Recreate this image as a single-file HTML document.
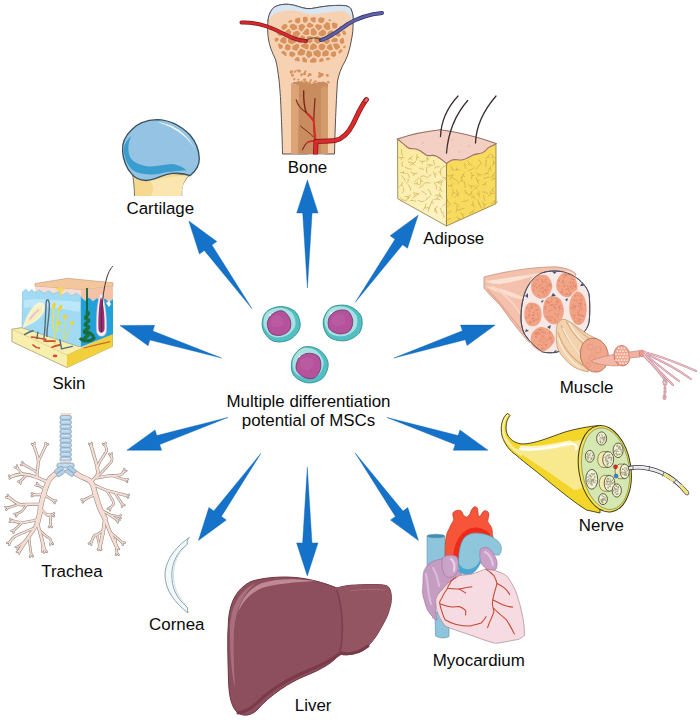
<!DOCTYPE html>
<html><head><meta charset="utf-8"><style>
html,body{margin:0;padding:0;background:#fff;}
body{width:700px;height:721px;overflow:hidden;font-family:"Liberation Sans",sans-serif;}
svg{display:block;}
</style></head><body>
<svg width="700" height="721" viewBox="0 0 700 721">
<rect width="700" height="721" fill="#fff"/>
<!-- 01_bone.svg -->
<g>
<path d="M282.5,154 C282,130 281,110 280.6,100 C280,90 279.5,85 279,80 C278,72 277,65 275.7,60 C272,52 269.5,46 268.6,40 C267.5,34 267.5,28 267.9,21.4 C268.5,16 270,11 274.3,7.1 C279,4.5 284,4 288.6,4.3 C296,5 301,8 307,8.6 C313,9 318,7 324.3,6.4 C331,5.5 340,5 345.7,5.7 C349,6.5 351,8 351.4,10 C353,14 353.5,18 352.9,21.4 C353.5,28 352.5,35 351.4,40 C350,48 348,55 345.7,60 C341,68 338.5,75 337.4,82 C336,105 335,130 334.5,154 Z" fill="#f7d2b2" stroke="#4a4040" stroke-width="0.9"/>
<path d="M267.9,21.4 C268.5,16 270,11 274.3,7.1 C279,4.5 284,4 288.6,4.3 C296,5 301,8 307,8.6 C313,9 318,7 324.3,6.4 C331,5.5 340,5 345.7,5.7 C349,6.5 351,8 351.4,10 C353,14 353.5,18 352.9,21.4 C351,18 350,15.5 348.6,14.3 C346,11.5 343,10.5 340,10.7 C334,11 329,12.5 324.3,12.9 C319,13.5 314,14.5 310,14.3 C305,14 300,11 295.7,10.7 C290,10.3 285,10.5 281.4,11.4 C276,12.5 272.5,14.5 270.7,17 Z" fill="#d8e6f3"/>
<path d="M267.9,21.4 C268.5,16 270,11 274.3,7.1 C279,4.5 284,4 288.6,4.3 C296,5 301,8 307,8.6 C313,9 318,7 324.3,6.4 C331,5.5 340,5 345.7,5.7 C349,6.5 351,8 351.4,10 C353,14 353.5,18 352.9,21.4" fill="none" stroke="#4a4a55" stroke-width="0.9"/>
<g fill="#d8925e"><path d="M288.6,21.0 L288.1,21.5 L288.2,22.1 L289.6,22.9 L291.9,22.0 L292.4,20.5 L292.1,19.9 L291.4,19.7 L288.6,21.0Z"/><path d="M294.8,21.3 L295.3,22.2 L297.4,23.5 L298.3,23.5 L300.3,22.0 L300.2,18.0 L299.4,17.6 L295.6,18.6 L295.3,19.1 L294.8,21.3Z"/><path d="M303.4,17.1 L303.0,17.8 L303.0,21.7 L304.7,22.8 L305.4,22.9 L307.8,20.7 L307.7,17.7 L306.1,16.7 L303.4,17.1Z"/><path d="M315.2,22.3 L315.5,21.7 L315.7,18.2 L315.5,17.7 L314.1,16.9 L310.8,17.7 L310.5,18.4 L310.8,20.7 L314.0,22.7 L315.2,22.3Z"/><path d="M324.3,18.5 L323.7,17.9 L321.2,17.3 L318.8,18.0 L318.4,18.6 L318.4,21.9 L321.6,23.2 L322.3,23.2 L324.7,20.6 L324.3,18.5Z"/><path d="M329.6,19.2 L328.7,19.4 L328.5,20.4 L329.0,20.9 L330.4,21.2 L330.9,20.8 L331.0,20.1 L329.6,19.2Z"/><path d="M281.4,28.0 L281.6,28.6 L283.0,29.9 L283.9,30.0 L287.4,27.2 L287.5,25.2 L285.4,23.7 L284.6,23.7 L281.8,25.9 L281.4,28.0Z"/><path d="M289.7,26.9 L290.0,27.6 L292.7,30.6 L296.5,29.3 L297.0,28.5 L296.9,25.7 L293.3,23.5 L290.1,24.7 L289.7,26.9Z"/><path d="M302.2,24.1 L301.1,24.1 L298.9,25.5 L298.5,26.2 L298.6,29.3 L301.0,31.5 L302.0,31.2 L305.3,27.0 L304.7,25.3 L302.2,24.1Z"/><path d="M313.6,25.8 L313.2,24.6 L309.5,22.4 L308.7,22.7 L306.4,25.2 L307.1,26.8 L309.8,28.1 L313.1,26.4 L313.6,25.8Z"/><path d="M315.0,26.7 L318.0,30.5 L318.7,30.4 L321.9,28.0 L322.2,27.2 L321.7,25.6 L317.2,24.0 L315.5,24.9 L315.0,26.7Z"/><path d="M329.7,23.5 L329.1,22.7 L326.7,21.9 L323.4,25.2 L323.8,27.7 L327.0,30.3 L327.9,30.2 L329.9,29.3 L330.4,28.7 L329.7,23.5Z"/><path d="M334.0,22.6 L332.2,23.1 L331.8,24.0 L332.6,28.0 L334.6,28.8 L337.0,27.8 L337.6,24.4 L337.3,23.8 L336.4,23.2 L334.0,22.6Z"/><path d="M339.4,28.0 L339.7,28.8 L340.5,29.1 L342.0,28.6 L342.3,27.8 L341.5,26.6 L340.5,26.0 L339.7,26.5 L339.4,28.0Z"/><path d="M277.7,31.4 L277.1,32.3 L277.7,35.0 L280.4,36.1 L282.3,35.2 L282.4,34.5 L282.0,32.8 L280.1,31.0 L279.4,30.8 L277.7,31.4Z"/><path d="M284.6,34.9 L285.0,35.5 L287.3,36.8 L290.0,35.9 L290.6,35.3 L291.3,31.5 L289.5,29.2 L288.3,29.1 L284.3,32.3 L284.6,34.9Z"/><path d="M297.2,37.9 L300.4,33.8 L300.2,33.1 L298.0,30.8 L297.2,30.5 L293.1,32.2 L292.1,35.5 L292.5,36.3 L296.5,38.2 L297.2,37.9Z"/><path d="M306.4,28.4 L302.5,33.1 L302.8,33.8 L305.7,35.3 L308.6,34.7 L309.3,33.8 L309.2,29.7 L307.3,28.5 L306.4,28.4Z"/><path d="M311.2,29.1 L310.7,30.1 L310.7,34.1 L311.0,34.8 L313.5,36.0 L316.6,34.6 L317.0,32.1 L314.4,28.3 L313.3,28.0 L311.2,29.1Z"/><path d="M326.2,32.3 L325.9,31.2 L323.6,29.4 L322.7,29.3 L318.7,32.2 L318.4,34.3 L318.9,35.0 L322.1,36.4 L325.4,34.9 L326.2,32.3Z"/><path d="M333.3,36.4 L333.7,35.6 L333.7,31.6 L333.3,30.9 L331.3,30.2 L327.8,32.0 L327.1,35.2 L329.9,38.1 L331.1,38.2 L333.3,36.4Z"/><path d="M338.1,36.6 L338.8,36.7 L340.4,35.7 L340.8,34.9 L339.3,31.6 L338.0,30.8 L335.8,31.8 L335.7,35.0 L336.0,35.7 L338.1,36.6Z"/><path d="M343.9,30.4 L342.2,31.2 L342.1,31.9 L343.4,34.7 L344.5,35.1 L345.9,34.4 L346.2,33.5 L344.6,30.6 L343.9,30.4Z"/><path d="M275.0,38.3 L274.7,39.5 L275.0,41.4 L276.4,41.8 L277.9,41.0 L278.8,39.0 L278.5,38.2 L276.5,37.4 L275.0,38.3Z"/><path d="M283.9,43.7 L284.9,43.7 L286.4,42.4 L286.6,38.7 L286.2,37.8 L284.1,36.8 L281.2,38.2 L280.0,41.0 L280.5,42.0 L283.9,43.7Z"/><path d="M296.4,40.4 L295.8,39.6 L290.7,37.2 L288.2,38.4 L287.9,41.8 L288.4,42.6 L291.8,44.5 L296.2,42.2 L296.5,41.5 L296.4,40.4Z"/><path d="M304.3,41.5 L304.8,40.7 L305.0,36.8 L302.4,35.3 L301.4,35.3 L297.9,39.4 L298.1,41.9 L299.4,43.3 L300.2,43.5 L304.3,41.5Z"/><path d="M312.7,38.0 L312.3,37.1 L310.0,35.9 L307.1,36.6 L306.5,37.4 L306.4,41.3 L309.3,43.3 L310.3,43.3 L312.5,41.6 L312.7,38.0Z"/><path d="M321.0,38.4 L320.5,37.4 L317.9,36.0 L317.0,36.0 L314.2,37.6 L314.1,41.6 L317.2,43.7 L318.1,43.8 L320.9,41.7 L321.0,38.4Z"/><path d="M329.8,40.4 L329.5,39.6 L326.0,36.5 L323.1,37.5 L322.5,38.2 L322.6,41.7 L326.2,44.0 L327.0,43.9 L329.5,42.3 L329.8,40.4Z"/><path d="M331.2,41.2 L331.5,41.9 L332.2,42.3 L336.9,41.9 L337.6,41.2 L337.8,39.2 L337.2,38.5 L334.3,37.5 L331.5,39.7 L331.2,41.2Z"/><path d="M344.0,43.1 L344.4,42.2 L343.6,38.3 L343.2,37.8 L342.4,37.7 L340.0,39.2 L339.6,42.0 L341.6,44.3 L344.0,43.1Z"/><path d="M279.9,48.9 L280.6,48.9 L282.3,48.3 L283.0,45.8 L282.6,45.2 L279.1,43.5 L278.3,44.0 L278.1,44.7 L279.0,48.2 L279.9,48.9Z"/><path d="M290.8,46.4 L290.3,45.5 L287.9,43.9 L287.0,43.9 L285.3,45.4 L284.6,48.8 L287.1,50.6 L288.0,50.7 L290.6,49.1 L290.8,46.4Z"/><path d="M299.2,47.3 L299.1,45.0 L297.8,43.7 L297.0,43.5 L292.5,45.9 L292.2,48.7 L292.7,49.4 L296.3,51.0 L297.0,50.6 L299.2,47.3Z"/><path d="M307.7,49.2 L308.4,48.5 L308.9,45.0 L306.0,42.8 L305.0,42.7 L300.8,45.1 L300.8,46.2 L301.2,46.8 L306.4,49.5 L307.7,49.2Z"/><path d="M316.5,48.5 L317.1,47.6 L317.0,45.5 L313.9,43.3 L312.9,43.2 L310.5,44.9 L309.8,48.5 L310.4,49.5 L312.4,50.3 L316.5,48.5Z"/><path d="M320.9,50.3 L322.1,50.4 L325.0,48.4 L325.6,46.2 L325.2,45.1 L321.9,43.2 L318.9,44.9 L318.5,45.7 L318.7,48.2 L320.9,50.3Z"/><path d="M331.3,44.4 L330.8,43.8 L329.9,43.8 L327.1,45.9 L326.9,48.4 L329.8,50.4 L332.5,49.7 L333.1,49.0 L331.3,44.4Z"/><path d="M336.4,49.8 L337.4,49.7 L339.9,47.4 L340.2,46.2 L337.8,43.4 L333.7,43.6 L333.1,44.2 L333.1,45.1 L334.9,49.0 L336.4,49.8Z"/><path d="M344.9,45.5 L343.0,46.8 L343.0,47.4 L344.3,48.4 L345.0,48.1 L345.8,46.4 L345.6,45.7 L344.9,45.5Z"/><path d="M285.3,56.0 L286.1,56.1 L286.7,55.5 L286.3,52.4 L283.7,50.8 L281.8,51.4 L281.4,52.0 L281.5,53.1 L285.3,56.0Z"/><path d="M292.0,51.3 L291.3,51.3 L289.3,52.6 L289.4,55.3 L289.8,56.0 L292.6,57.2 L295.3,55.1 L295.5,54.4 L295.1,52.9 L292.0,51.3Z"/><path d="M297.7,54.2 L298.2,55.0 L300.3,55.8 L304.0,54.9 L304.6,54.3 L305.5,50.8 L301.3,48.4 L300.4,48.4 L297.6,52.2 L297.7,54.2Z"/><path d="M309.3,50.5 L308.5,50.4 L307.2,51.1 L305.9,55.0 L307.9,57.8 L308.7,58.1 L312.0,55.9 L312.4,55.1 L311.6,51.9 L309.3,50.5Z"/><path d="M313.8,54.7 L314.4,55.5 L318.1,57.2 L318.8,57.2 L320.7,55.7 L320.8,52.1 L318.2,49.8 L317.3,49.7 L313.4,51.6 L313.2,52.4 L313.8,54.7Z"/><path d="M322.2,55.1 L322.6,55.9 L324.1,56.6 L328.0,55.8 L328.6,55.0 L328.8,51.7 L326.5,49.9 L325.4,49.9 L322.4,52.0 L322.2,55.1Z"/><path d="M331.5,52.2 L331.0,52.7 L330.7,55.0 L331.1,55.8 L333.7,57.3 L336.1,55.4 L336.0,52.4 L335.6,51.8 L334.1,51.3 L331.5,52.2Z"/><path d="M338.6,53.0 L339.1,53.7 L340.0,53.6 L342.5,51.3 L342.4,50.2 L341.3,49.2 L340.4,49.3 L338.6,51.1 L338.6,53.0Z"/><path d="M294.8,59.0 L294.5,59.8 L295.0,60.4 L298.8,61.5 L299.8,60.9 L299.2,57.8 L297.8,57.0 L296.9,57.1 L294.8,59.0Z"/><path d="M302.6,61.5 L303.0,62.0 L303.9,62.3 L306.3,62.5 L307.0,62.0 L307.1,59.7 L304.7,57.2 L302.6,57.5 L302.0,58.0 L302.6,61.5Z"/><path d="M310.0,61.8 L310.2,62.4 L310.8,62.7 L315.6,62.5 L316.1,62.0 L316.7,59.1 L316.3,58.7 L313.9,57.6 L313.2,57.5 L310.2,59.9 L310.0,61.8Z"/><path d="M319.1,61.0 L319.3,61.8 L320.1,62.1 L323.3,61.5 L323.8,60.5 L323.1,58.5 L321.6,57.8 L319.7,59.0 L319.1,61.0Z"/><path d="M326.2,59.9 L327.0,60.5 L328.3,60.1 L330.0,59.5 L330.2,58.5 L328.8,57.5 L326.4,57.9 L325.8,58.6 L326.2,59.9Z"/><path d="M301.1,71.2 C301.1,71.7 300.5,72.1 300.0,72.3 C299.5,72.5 298.4,72.6 298.1,72.2 C297.7,71.9 297.6,70.5 297.9,70.1 C298.3,69.7 299.5,69.5 300.1,69.7 C300.6,69.9 301.1,70.8 301.1,71.2Z"/><path d="M320.7,73.1 C320.7,73.5 320.2,74.1 319.7,74.2 C319.3,74.4 318.5,74.2 318.3,73.9 C318.0,73.6 318.1,72.8 318.4,72.5 C318.6,72.1 319.3,71.8 319.7,71.9 C320.1,72.0 320.7,72.7 320.7,73.1Z"/><path d="M306.0,73.6 C306.0,74.1 305.5,75.0 305.0,75.2 C304.5,75.4 303.1,75.0 302.8,74.6 C302.6,74.2 303.2,73.4 303.5,72.9 C303.8,72.5 304.4,71.7 304.9,71.8 C305.3,71.9 305.9,73.0 306.0,73.6Z"/><path d="M302.7,74.8 C302.7,75.4 302.1,76.4 301.8,76.5 C301.4,76.6 300.7,75.9 300.5,75.5 C300.3,75.1 300.3,74.6 300.5,74.2 C300.7,73.8 301.6,72.9 302.0,73.0 C302.3,73.1 302.7,74.3 302.7,74.8Z"/><path d="M295.4,79.0 C295.4,79.5 295.0,80.3 294.7,80.4 C294.4,80.5 293.6,80.1 293.4,79.7 C293.2,79.4 293.2,78.7 293.4,78.4 C293.7,78.0 294.4,77.7 294.7,77.8 C295.0,77.9 295.4,78.6 295.4,79.0Z"/><path d="M306.6,71.4 C306.6,71.8 306.2,72.6 305.9,72.7 C305.5,72.9 304.5,72.6 304.3,72.2 C304.1,71.9 304.3,71.1 304.6,70.8 C304.8,70.5 305.5,70.2 305.8,70.3 C306.2,70.4 306.6,71.0 306.6,71.4Z"/><path d="M308.2,82.5 C308.2,83.0 307.8,83.9 307.4,84.0 C307.0,84.1 306.2,83.7 305.9,83.3 C305.6,82.9 305.1,81.8 305.4,81.5 C305.6,81.1 307.0,81.1 307.4,81.3 C307.9,81.4 308.2,82.0 308.2,82.5Z"/><path d="M322.3,74.7 C322.3,75.1 322.0,76.0 321.6,76.2 C321.2,76.4 320.0,76.1 319.6,75.7 C319.3,75.3 319.4,74.1 319.7,73.8 C320.0,73.4 321.0,73.5 321.4,73.7 C321.8,73.9 322.2,74.3 322.3,74.7Z"/><path d="M292.3,72.6 C292.2,73.1 292.0,73.7 291.6,73.8 C291.3,73.9 290.6,73.8 290.2,73.4 C289.9,73.0 289.5,71.8 289.7,71.4 C290.0,70.9 291.4,70.4 291.9,70.6 C292.3,70.8 292.3,72.1 292.3,72.6Z"/><path d="M324.3,87.1 C324.4,87.6 323.8,88.7 323.3,88.8 C322.9,89.0 321.9,88.6 321.5,88.2 C321.2,87.7 320.9,86.5 321.2,86.1 C321.4,85.8 322.6,85.9 323.1,86.1 C323.6,86.2 324.3,86.7 324.3,87.1Z"/><path d="M313.3,84.9 C313.4,85.3 313.2,86.0 312.9,86.1 C312.6,86.3 311.8,85.9 311.5,85.6 C311.3,85.3 311.3,84.5 311.5,84.2 C311.7,83.9 312.4,83.7 312.7,83.8 C313.0,83.9 313.3,84.5 313.3,84.9Z"/><path d="M311.4,87.5 C311.4,88.0 311.0,88.8 310.5,89.0 C310.1,89.1 309.1,88.8 308.8,88.4 C308.5,88.0 308.6,87.1 308.9,86.7 C309.1,86.3 310.1,85.8 310.5,85.9 C310.9,86.0 311.4,87.0 311.4,87.5Z"/><path d="M296.5,83.5 C296.5,84.0 295.7,85.3 295.2,85.4 C294.7,85.6 293.8,84.9 293.5,84.4 C293.1,83.9 292.9,82.7 293.2,82.3 C293.5,81.9 294.6,81.8 295.1,82.0 C295.7,82.2 296.4,82.9 296.5,83.5Z"/><path d="M328.9,75.3 C329.0,75.8 328.2,76.8 327.7,77.0 C327.3,77.1 326.6,76.6 326.3,76.1 C326.0,75.7 325.7,74.7 326.0,74.4 C326.2,74.0 327.1,73.9 327.6,74.1 C328.1,74.2 328.9,74.8 328.9,75.3Z"/><path d="M304.7,83.9 C304.7,84.3 304.0,84.9 303.6,85.1 C303.2,85.2 302.3,85.0 302.0,84.7 C301.8,84.4 302.0,83.6 302.3,83.2 C302.6,82.9 303.3,82.6 303.7,82.7 C304.1,82.8 304.7,83.5 304.7,83.9Z"/><path d="M307.9,83.2 C307.9,83.7 307.3,84.5 306.7,84.7 C306.1,84.9 304.7,84.9 304.3,84.4 C303.9,83.9 304.1,82.3 304.5,81.9 C304.9,81.4 306.1,81.5 306.6,81.8 C307.2,82.0 307.9,82.7 307.9,83.2Z"/><path d="M300.1,82.7 C300.2,83.4 299.3,84.6 298.7,84.7 C298.2,84.9 296.9,84.2 296.7,83.7 C296.4,83.2 296.8,82.4 297.2,81.9 C297.5,81.4 298.2,80.5 298.7,80.7 C299.2,80.8 300.1,82.0 300.1,82.7Z"/><path d="M305.6,80.4 C305.6,81.0 305.4,81.8 305.0,81.9 C304.7,82.0 303.8,81.7 303.5,81.2 C303.1,80.8 302.7,79.6 303.0,79.2 C303.2,78.9 304.6,78.7 305.0,78.9 C305.5,79.1 305.6,79.9 305.6,80.4Z"/><path d="M303.0,82.0 C302.9,82.3 302.1,82.7 301.7,82.8 C301.3,82.9 300.8,82.8 300.5,82.6 C300.3,82.3 300.3,81.5 300.5,81.2 C300.7,80.9 301.4,80.7 301.8,80.8 C302.2,80.9 303.0,81.7 303.0,82.0Z"/><path d="M323.9,74.8 C323.9,75.3 322.7,76.2 322.1,76.4 C321.5,76.6 320.7,76.2 320.3,75.8 C320.0,75.3 319.7,74.1 320.0,73.7 C320.3,73.2 321.5,72.9 322.1,73.1 C322.8,73.3 323.9,74.2 323.9,74.8Z"/><path d="M317.0,81.4 C317.0,81.7 316.2,82.1 315.8,82.2 C315.5,82.3 315.1,82.2 314.8,81.9 C314.6,81.6 314.3,80.9 314.4,80.6 C314.6,80.3 315.5,80.1 315.9,80.2 C316.4,80.3 317.0,81.0 317.0,81.4Z"/><path d="M309.3,75.6 C309.3,76.1 309.1,76.8 308.8,76.9 C308.5,77.0 307.6,76.7 307.4,76.4 C307.2,76.1 307.4,75.4 307.6,75.0 C307.8,74.7 308.5,74.2 308.8,74.3 C309.1,74.4 309.3,75.2 309.3,75.6Z"/><path d="M311.6,74.4 C311.7,74.9 311.2,75.8 310.7,76.0 C310.2,76.2 309.0,76.1 308.7,75.6 C308.3,75.2 308.4,73.7 308.7,73.2 C309.0,72.8 310.1,72.9 310.6,73.1 C311.1,73.3 311.6,74.0 311.6,74.4Z"/><path d="M296.5,84.0 C296.5,84.5 296.3,85.3 295.8,85.5 C295.3,85.7 293.9,85.6 293.6,85.2 C293.3,84.8 293.7,83.4 294.0,83.0 C294.4,82.6 295.3,82.4 295.7,82.5 C296.1,82.7 296.5,83.5 296.5,84.0Z"/><path d="M312.1,80.2 C312.1,80.6 311.7,80.9 311.3,81.0 C310.9,81.2 309.9,81.3 309.7,81.1 C309.5,80.8 309.9,79.9 310.1,79.6 C310.4,79.2 311.1,78.9 311.4,79.1 C311.8,79.2 312.2,79.9 312.1,80.2Z"/><path d="M329.7,82.4 C329.7,82.8 329.0,83.6 328.6,83.6 C328.2,83.7 327.6,83.2 327.3,82.9 C327.1,82.5 326.8,81.8 327.0,81.5 C327.2,81.2 328.1,81.0 328.5,81.1 C329.0,81.3 329.7,81.9 329.7,82.4Z"/><path d="M299.4,79.5 C299.4,79.9 299.0,80.4 298.7,80.5 C298.3,80.6 297.3,80.5 297.2,80.3 C297.0,80.1 297.4,79.4 297.6,79.1 C297.9,78.8 298.3,78.4 298.6,78.5 C298.9,78.6 299.4,79.2 299.4,79.5Z"/><path d="M305.9,74.2 C305.9,74.6 305.4,75.0 305.0,75.1 C304.7,75.2 304.1,75.2 303.8,74.9 C303.6,74.6 303.4,73.8 303.6,73.4 C303.8,73.1 304.7,72.8 305.1,72.9 C305.5,73.1 305.9,73.8 305.9,74.2Z"/><path d="M321.5,76.2 C321.5,76.7 320.3,77.6 319.7,77.8 C319.1,77.9 318.1,77.6 317.9,77.2 C317.6,76.8 318.0,75.8 318.2,75.4 C318.5,75.1 319.0,74.7 319.5,74.8 C320.1,75.0 321.5,75.7 321.5,76.2Z"/><path d="M311.4,82.6 C311.4,83.1 310.8,83.7 310.3,83.8 C309.8,84.0 308.8,83.9 308.5,83.6 C308.3,83.3 308.5,82.3 308.8,81.9 C309.1,81.4 310.0,80.9 310.4,81.0 C310.8,81.1 311.4,82.1 311.4,82.6Z"/><path d="M306.2,79.5 C306.2,79.9 305.9,80.6 305.5,80.7 C305.2,80.9 304.4,80.6 304.1,80.2 C303.9,79.9 303.9,79.1 304.2,78.8 C304.4,78.5 305.1,78.2 305.5,78.4 C305.8,78.5 306.2,79.1 306.2,79.5Z"/><path d="M298.3,70.5 C298.3,70.8 297.9,71.2 297.6,71.3 C297.3,71.4 296.7,71.4 296.6,71.1 C296.4,70.9 296.3,70.0 296.5,69.8 C296.7,69.5 297.4,69.4 297.7,69.5 C298.0,69.6 298.3,70.2 298.3,70.5Z"/><path d="M292.9,87.4 C292.9,87.7 292.6,88.2 292.3,88.3 C292.0,88.4 291.4,88.3 291.2,88.0 C291.1,87.8 291.1,87.1 291.3,86.9 C291.4,86.6 292.1,86.3 292.4,86.4 C292.6,86.5 292.9,87.1 292.9,87.4Z"/><path d="M309.7,86.8 C309.7,87.2 309.5,88.1 309.2,88.2 C308.9,88.3 308.2,87.8 307.9,87.5 C307.6,87.1 307.2,86.3 307.4,86.0 C307.6,85.6 308.7,85.4 309.0,85.5 C309.4,85.7 309.7,86.3 309.7,86.8Z"/><path d="M292.9,71.6 C292.9,72.1 292.9,72.7 292.6,72.8 C292.3,72.9 291.5,72.5 291.3,72.2 C291.0,71.9 290.9,71.3 291.1,71.0 C291.4,70.6 292.4,70.1 292.7,70.3 C292.9,70.4 292.9,71.2 292.9,71.6Z"/><path d="M294.0,75.5 C294.0,76.0 293.2,76.7 292.8,76.8 C292.3,76.9 291.6,76.5 291.4,76.2 C291.1,75.8 290.9,75.1 291.1,74.7 C291.4,74.2 292.4,73.5 292.8,73.6 C293.3,73.8 294.0,75.0 294.0,75.5Z"/><path d="M321.2,83.2 C321.2,83.7 320.2,84.6 319.6,84.7 C319.0,84.9 318.1,84.5 317.8,84.1 C317.5,83.6 317.5,82.6 317.8,82.2 C318.1,81.8 319.0,81.7 319.6,81.9 C320.1,82.0 321.1,82.7 321.2,83.2Z"/><path d="M315.2,82.8 C315.2,83.2 314.8,84.1 314.4,84.2 C314.0,84.4 313.1,84.0 312.9,83.6 C312.6,83.2 312.7,82.2 313.0,81.9 C313.2,81.6 314.0,81.6 314.4,81.7 C314.8,81.9 315.2,82.4 315.2,82.8Z"/><path d="M317.3,85.8 C317.4,86.4 316.5,87.6 316.0,87.7 C315.5,87.9 314.6,87.3 314.2,86.8 C313.9,86.3 313.6,85.2 313.9,84.8 C314.1,84.5 315.3,84.4 315.8,84.5 C316.4,84.7 317.3,85.3 317.3,85.8Z"/><path d="M296.3,71.5 C296.3,71.9 296.0,72.5 295.6,72.6 C295.2,72.8 294.3,72.8 294.0,72.4 C293.8,72.1 293.7,71.0 294.0,70.7 C294.2,70.3 295.2,70.1 295.6,70.2 C296.0,70.3 296.3,71.0 296.3,71.5Z"/></g>
<path d="M291,154 L291,84 C296,80 305,82 312,84 C318,82 324,80 328,84 L328,154 Z" fill="#c98c5e"/>
<path d="M291,154 L291,84 C294,83 297,84 299,86 L298,154 Z" fill="#dba377"/>
<path d="M321,154 L321,88 C324,86 326,86 328,87 L328,154 Z" fill="#d39a6c"/>
<g fill="none" stroke-linecap="round">
<path d="M315,141 C314,133 314,126 313.7,121 C311,117 308,115 306.2,112.4 C304,106 303.5,98 303.7,91" stroke="#7a2418" stroke-width="1.4"/>
<path d="M313.7,121 C314,113 314.5,105 315,98.7" stroke="#7a2418" stroke-width="1.2"/>
<path d="M306.2,112.4 C302,110 298,106 296.2,99.9" stroke="#7a2418" stroke-width="1.1"/>
<path d="M313.5,137 C310,133 305,130 300.5,126" stroke="#7a2418" stroke-width="1"/>
<path d="M313,141 C309,141 307,142 305,145 C304,147 303,148.5 302.5,149.8" stroke="#7a2418" stroke-width="1.1"/>
<path d="M315.5,141 C314.8,134 314.5,128 313.7,121 C312,118 310,116 308,114" stroke="#dd2a2a" stroke-width="2"/>
<path d="M316,141 C312,141 309,141.5 307.5,142.3" stroke="#dd2a2a" stroke-width="1.6"/>
</g>
<path d="M241.5,22.5 C255,22 268,26 280,32 C290,37 298,41 306,41" fill="none" stroke="#7a1d20" stroke-width="4" stroke-linecap="round"/>
<path d="M241.5,22.5 C255,22 268,26 280,32 C290,37 298,41 306,41" fill="none" stroke="#d8282c" stroke-width="2.6" stroke-linecap="round"/>
<path d="M382,13 C370,14 358,18 348,24 C338,31 330,38 321,40" fill="none" stroke="#33336a" stroke-width="4" stroke-linecap="round"/>
<path d="M382,13 C370,14 358,18 348,24 C338,31 330,38 321,40" fill="none" stroke="#5f62a8" stroke-width="2.6" stroke-linecap="round"/>
<path d="M306,41 C310,37 316,37 321,40" fill="none" stroke="#3a2a2a" stroke-width="0.8"/>
<path d="M366,100 C360,108 357,116 353,124 C349,132 343,139 335,140.5 C326,141.5 320,141 316,141.5 L315.5,154" fill="none" stroke="#7a1618" stroke-width="5" stroke-linecap="round"/>
<path d="M366,100 C360,108 357,116 353,124 C349,132 343,139 335,140.5 C326,141.5 320,141 316,141.5 L315.5,154" fill="none" stroke="#dc2a2c" stroke-width="3.6"/>

<ellipse cx="366.2" cy="100.2" rx="2.8" ry="2" fill="#f06060" stroke="#7a1618" stroke-width="0.8" transform="rotate(-55 366.2 100.2)"/>
<rect x="308" y="154.6" width="16" height="4" fill="#fff"/>
</g>

<!-- 02_cartilage.svg -->
<g>
<path d="M132,170 C133.5,180 134.5,189 134.5,196.5 L181.8,196.5 C181.5,190 181.8,186 182.9,184.6 C184.5,181 186.5,178 190,175 Z" fill="#f6d890" stroke="#555" stroke-width="0.8"/>
<path d="M150,181 C162,178 175,176 188,176 C184,181 182,186 181.8,192 L181.8,196.5 L150,196.5 C154,192 154,186 150,181 Z" fill="#fae6ae"/>
<path d="M183,196.6 L133.5,196.6" stroke="#fff" stroke-width="1.4"/>
<path id="cartHead" d="M122.6,151.4 C122,145 124,137 131.4,130 C136,125 145,120 157.1,119.7 C170,120 182,127 190,135 C196,142 199,150 199.3,158.6 C199.5,165 196,171 190,175.7 C184,173 175,172.5 167,174.3 C160,176 155,180 146,180.5 C139,180 134,177 131.4,173.6 C127,169 123,160 122.6,151.4 Z" fill="#94c3e3"/>
<path d="M131.4,136 C127.5,143 127.5,152 130.5,158 C134.5,163.5 142,166 150,166.4 C158,166.5 165,164 172,164 C178,164.5 183,167 186.5,170.5 C183,170.4 181,170.5 180.7,170.7 C176,171 172,171.5 167.9,172 C162,173 157,174.5 151.8,174.5 C145,174.3 139,173.5 135.2,171.8 C129,168 124.5,160 123.8,150 C123.8,145 126.5,140 131.4,136 Z" fill="#3a9dd0"/>
<path d="M157,122 C175,124 190,136 196,152 C191,140 178,128 157,122 Z" fill="#ffffff" opacity="0.9"/>
<path d="M122.6,151.4 C122,145 124,137 131.4,130 C136,125 145,120 157.1,119.7 C170,120 182,127 190,135 C196,142 199,150 199.3,158.6 C199.5,165 196,171 190,175.7 C184,173 175,172.5 167,174.3 C160,176 155,180 146,180.5 C139,180 134,177 131.4,173.6 C127,169 123,160 122.6,151.4 Z" fill="none" stroke="#34505e" stroke-width="1.3"/>
</g>

<!-- 03_adipose.svg -->
<g>
<defs><linearGradient id="fatL" x1="0" y1="0" x2="0.3" y2="1"><stop offset="0" stop-color="#fae99a"/><stop offset="1" stop-color="#fdf2c2"/></linearGradient></defs>
<path d="M397.5,139 L397.8,198.8 L446.5,226 L446.5,158 L420,140 Z" fill="url(#fatL)" stroke="#8a7a40" stroke-width="0.8"/>

<path d="M446.5,158 L446.5,226 L496,203.7 L496,143.5 L470,145 Z" fill="#f7da5e" stroke="#8a7a40" stroke-width="0.8"/>
<g fill="none" stroke="#c2a43c" stroke-width="0.6" stroke-linecap="round"><path d="M402.6,155.5 Q400.9,152.7 401.3,149.4"/><path d="M403.9,157.6 Q401.3,157.8 398.7,157.5 M401.3,157.7 L401.3,159.5"/><path d="M403.0,166.8 Q400.9,164.8 402.5,162.3"/><path d="M405.6,173.5 Q403.1,172.9 400.6,172.4 M403.1,172.9 L403.5,171.2"/><path d="M405.3,181.0 Q404.6,177.7 401.7,175.8"/><path d="M399.5,186.9 Q402.0,185.2 402.6,182.3 M401.5,184.9 L403.0,185.9"/><path d="M403.5,188.1 Q404.7,190.8 402.6,192.9"/><path d="M399.8,197.6 Q401.9,200.3 405.2,200.6 M402.2,199.7 L401.3,201.3"/><path d="M408.1,159.5 Q410.4,158.2 412.5,156.6 M410.3,158.1 L411.3,159.7"/><path d="M412.9,162.8 Q410.5,163.2 408.4,162.0"/><path d="M405.3,167.3 Q407.9,169.2 411.2,169.2"/><path d="M409.5,177.6 Q409.0,175.2 407.5,173.2"/><path d="M406.7,183.4 Q409.0,181.8 408.3,179.1"/><path d="M408.4,184.9 Q410.9,187.1 410.8,190.4"/><path d="M410.6,195.4 Q408.1,197.4 405.0,196.7 M407.9,196.7 L408.4,198.5"/><path d="M409.3,197.4 Q406.5,198.0 405.9,200.8"/><path d="M416.7,159.8 Q417.1,157.3 417.0,154.7 M417.0,157.3 L418.8,157.3"/><path d="M415.8,161.3 Q413.6,164.0 410.4,165.3 M413.4,163.6 L414.4,165.1"/><path d="M411.0,172.4 Q413.7,174.6 417.0,173.4 M413.9,173.8 L413.6,175.6"/><path d="M419.0,178.0 Q416.7,179.7 414.7,181.9"/><path d="M414.4,183.7 Q417.1,183.3 419.4,184.7 M417.0,183.7 L417.4,182.0"/><path d="M419.0,193.6 Q416.0,193.7 413.2,192.8"/><path d="M412.8,198.2 Q414.8,195.1 418.4,194.4 M415.2,195.7 L414.2,194.2"/><path d="M415.9,201.3 Q413.4,199.6 410.5,200.5"/><path d="M419.9,161.1 Q422.4,162.2 424.8,160.9 M422.4,161.6 L422.4,163.4"/><path d="M419.4,168.1 Q421.8,168.1 423.7,169.5"/><path d="M426.2,176.6 Q423.6,174.9 420.7,176.3"/><path d="M420.5,184.3 Q421.2,181.3 420.6,178.2 M420.9,181.2 L422.7,181.3"/><path d="M423.7,184.8 Q421.6,186.3 419.5,187.8"/><path d="M422.1,191.4 Q424.8,192.4 426.6,194.7"/><path d="M418.4,200.4 Q421.0,202.4 424.1,201.3"/><path d="M423.1,210.3 Q425.8,207.8 425.9,204.1 M425.1,207.5 L426.8,208.2"/><path d="M427.2,156.1 Q427.5,158.9 426.9,161.6 M427.2,158.9 L429.0,159.0"/><path d="M427.2,164.6 Q429.8,165.2 432.5,165.2 M429.8,165.0 L429.6,166.8"/><path d="M427.0,173.0 Q425.8,170.0 426.9,166.9"/><path d="M426.8,178.2 Q428.6,176.1 431.0,174.6"/><path d="M424.0,183.3 Q427.0,181.7 430.1,183.0"/><path d="M428.1,189.2 Q430.3,191.7 431.3,194.8"/><path d="M425.7,200.3 Q427.1,197.5 430.1,196.4"/><path d="M430.5,204.7 Q431.9,202.5 432.5,199.9 M431.7,202.4 L433.3,203.1"/><path d="M428.3,211.3 Q428.5,207.9 430.4,205.0 M429.0,208.0 L427.3,207.4"/><path d="M433.5,160.4 Q433.6,162.9 434.9,165.0"/><path d="M439.4,166.5 Q436.7,166.4 434.5,168.1"/><path d="M435.3,177.2 Q435.1,174.2 433.5,171.7 M434.8,174.3 L436.5,173.8"/><path d="M435.5,182.8 Q438.5,182.4 440.9,180.5 M438.4,182.0 L439.1,183.7"/><path d="M436.8,189.1 Q437.1,185.4 434.2,182.9"/><path d="M441.0,195.9 Q438.4,194.0 435.4,195.3"/><path d="M439.9,199.6 Q437.1,198.0 434.2,199.3 M437.1,198.7 L437.2,196.9"/><path d="M434.2,210.0 Q435.1,207.6 437.5,206.6"/><path d="M437.2,213.6 Q436.0,211.2 435.2,208.6 M436.1,211.1 L434.5,211.8"/><path d="M447.4,165.4 Q443.7,165.3 441.6,168.3"/><path d="M440.9,168.9 Q439.9,172.0 441.0,175.1 M440.4,172.0 L438.6,172.0"/><path d="M442.5,176.8 Q445.3,177.9 446.6,180.6 M444.9,178.3 L446.2,177.0"/><path d="M441.0,185.6 Q440.6,182.4 442.8,180.0 M441.2,182.6 L439.5,182.1"/><path d="M439.9,187.3 Q440.2,189.9 442.0,191.7 M440.5,189.7 L438.9,190.5"/><path d="M439.5,193.1 Q439.7,196.4 442.0,198.5 M440.2,196.1 L438.6,196.9"/><path d="M442.6,206.1 Q444.7,203.8 447.7,202.8"/><path d="M441.5,212.5 Q441.5,210.2 440.5,208.1"/><path d="M442.9,212.3 Q442.5,215.3 444.3,217.7"/><path d="M450.5,165.8 Q452.5,167.6 452.6,170.3"/><path d="M452.8,174.8 Q450.5,176.9 447.6,175.8"/><path d="M449.7,179.6 Q451.2,177.0 453.2,174.9"/><path d="M453.3,183.7 Q451.3,186.1 448.2,186.1 M451.1,185.5 L451.8,187.2"/><path d="M453.0,189.6 Q453.9,192.9 452.0,195.7 M453.2,192.8 L455.0,193.0"/><path d="M449.2,203.2 Q446.9,201.1 446.7,198.0 M447.5,200.8 L445.8,201.6"/><path d="M445.6,206.7 Q449.0,206.9 450.8,204.0"/><path d="M451.1,211.0 Q449.2,213.5 446.1,213.5"/><path d="M445.5,221.1 Q447.7,218.9 450.8,218.4"/><path d="M454.2,170.1 Q456.8,169.8 459.3,169.8 M456.8,169.9 L456.6,168.1"/><path d="M452.1,177.9 Q455.2,178.8 457.5,181.2"/><path d="M457.8,183.5 Q459.2,181.6 461.3,180.7"/><path d="M458.3,194.9 Q456.7,192.8 456.7,190.2"/><path d="M454.8,197.3 Q457.0,195.0 459.2,192.7 M457.0,195.0 L458.3,196.3"/><path d="M454.1,202.8 Q457.3,203.5 459.0,206.3"/><path d="M457.1,206.4 Q458.0,209.8 455.9,212.6 M457.2,209.7 L459.0,210.0"/><path d="M461.1,219.3 Q458.6,218.6 456.6,216.9 M458.7,218.3 L457.9,219.9"/><path d="M465.6,168.4 Q465.1,166.0 464.6,163.6"/><path d="M461.3,178.0 Q463.2,175.7 464.3,172.9 M463.0,175.6 L464.5,176.5"/><path d="M461.5,176.8 Q461.1,179.8 463.3,181.9"/><path d="M464.5,181.9 Q464.7,184.8 465.4,187.6"/><path d="M464.5,190.2 Q466.1,192.7 468.4,194.6 M466.3,192.6 L464.9,193.7"/><path d="M462.7,201.5 Q465.7,201.7 468.2,200.0"/><path d="M459.4,209.7 Q461.7,208.7 464.2,208.3"/><path d="M463.7,217.6 Q462.7,214.5 460.5,212.1 M462.4,214.7 L464.0,213.8"/><path d="M467.4,161.0 Q469.0,164.0 472.0,165.6 M469.3,163.7 L468.1,164.9"/><path d="M468.8,170.8 Q472.0,169.9 474.0,167.3"/><path d="M471.6,178.5 Q472.9,175.5 471.3,172.6 M472.2,175.5 L474.0,175.4"/><path d="M468.7,185.2 Q471.4,187.3 474.6,186.0 M471.5,186.4 L471.3,188.2"/><path d="M468.4,195.7 Q471.7,194.3 472.3,190.8 M471.0,193.8 L472.4,194.9"/><path d="M471.1,196.8 Q473.9,196.7 475.3,199.2 M473.6,197.3 L474.4,195.8"/><path d="M473.0,201.8 Q472.4,204.8 474.1,207.3 M473.0,204.7 L471.2,205.0"/><path d="M469.6,213.3 Q473.1,212.5 474.5,209.3 M472.6,211.9 L473.7,213.3"/><path d="M481.3,163.8 Q480.9,160.9 478.3,159.7"/><path d="M475.8,169.0 Q478.2,166.9 480.3,164.4"/><path d="M476.5,173.2 Q478.6,175.1 481.4,175.0 M478.8,174.6 L478.1,176.3"/><path d="M478.6,183.8 Q477.6,180.7 476.1,177.8 M477.5,180.8 L479.1,180.1"/><path d="M477.8,185.6 Q476.4,187.9 474.2,189.4 M476.2,187.7 L477.5,188.9"/><path d="M478.8,191.1 Q478.6,194.0 479.3,196.8 M478.8,194.0 L477.1,194.1"/><path d="M477.8,199.9 Q478.2,202.7 479.8,205.1"/><path d="M478.7,202.6 Q480.6,205.2 481.4,208.3"/><path d="M485.4,158.5 Q488.7,157.1 490.3,153.9 M488.3,156.7 L489.5,158.0"/><path d="M485.7,166.6 Q485.6,163.4 486.4,160.3"/><path d="M489.3,170.6 Q487.9,173.9 484.3,174.5 M487.4,173.2 L488.5,174.6"/><path d="M489.3,177.2 Q486.3,177.5 483.5,178.3"/><path d="M482.6,185.0 Q485.5,184.8 486.2,181.9 M485.0,184.2 L486.1,185.5"/><path d="M488.0,193.7 Q485.6,191.4 482.3,191.9"/><path d="M483.7,195.7 Q484.0,198.4 485.0,200.9"/><path d="M482.5,201.8 Q485.1,204.4 484.4,208.0 M484.3,204.6 L486.0,204.1"/><path d="M495.2,158.2 Q492.3,157.3 491.7,154.3 M492.9,156.7 L491.5,157.9"/><path d="M492.6,166.0 Q494.9,163.2 493.7,159.8 M494.0,163.1 L495.8,163.4"/><path d="M491.3,170.5 Q489.8,168.6 490.3,166.2 M490.3,168.5 L488.5,168.9"/><path d="M494.7,172.5 Q493.2,175.4 490.9,177.7 M493.0,175.3 L494.5,176.3"/><path d="M496.1,178.1 Q493.4,178.5 491.4,180.4 M493.6,178.9 L492.8,177.2"/><path d="M493.8,187.5 Q492.6,190.5 490.1,192.4 M492.3,190.2 L493.7,191.3"/><path d="M488.6,195.8 Q490.9,192.9 494.5,193.2 M491.2,193.7 L490.5,192.0"/><path d="M491.8,203.4 Q494.5,201.7 497.7,201.9 M494.6,202.2 L494.2,200.4"/></g>
<path d="M397.5,139 C412,134 428,131 440.5,129.8 C458,132 478,137 496,143.5 C492,147 489,146 486,150 C482,155 477,153 473,155 C468,158 465,160 461,160 C457,160 455,159 452,160 C450,161 448,162 446.5,163.5 C444,162 441,158 436,156 C432,154 430,157 426,155 C422,152 420,150 416,149 C412,148 411,150 407,147 C404,144 401,142 397.5,139 Z" fill="#f4cfc3" stroke="#9a6e64" stroke-width="1.1"/>
<g fill="#e0a8a0"><circle cx="423" cy="143" r="0.7"/><circle cx="452" cy="140" r="0.7"/><circle cx="459" cy="152" r="0.7"/><circle cx="469" cy="146" r="0.7"/></g>
<g fill="none" stroke="#3d2f2f" stroke-width="1.3" stroke-linecap="round">
<path d="M440.5,136.5 C441,122 447,108 458,96"/>
<path d="M446.5,153 C448,134 455,115 467.7,100.5"/>
<path d="M475.5,143 C476,127 484,110 496,96"/>
</g>
</g>

<!-- 04_skin.svg -->
<g>
<path d="M11.9,329.1 L22,327.6 L78.7,346.4 L112.5,333.9 L112.5,346.4 L66.9,367.6 L11.9,341.7 Z" fill="#f8eeae" stroke="#8a8050" stroke-width="0.6"/>
<path d="M66.9,355.1 L112.5,333.9 L112.5,346.4 L66.9,367.6 Z" fill="#f2d03c"/>
<path d="M11.9,329.1 L66.9,355.1 L112.5,333.9" fill="none" stroke="#c8b870" stroke-width="0.5"/>
<path d="M35,283.5 L67.5,278.3 L113,282.8 L113,286.5 L81,290 L35,286.5 Z" fill="#f3c69c" stroke="#b08a6a" stroke-width="0.5"/>
<path d="M35,286.5 L81,290 L81.0,296.5 L76.4,293.1 L71.8,295.7 L67.2,292.3 L62.6,294.9 L58.0,291.5 L53.4,294.1 L48.8,290.7 L44.2,293.3 L39.6,289.9 L35.0,292.5 L35,292 Z" fill="#f8dcd6"/>
<path d="M81,290 L113,286.5 L113,299 L113.0,299.0 L109.0,302.2 L105.0,298.5 L101.0,301.8 L97.0,298.0 L93.0,301.2 L89.0,297.5 L85.0,300.8 L81.0,297.0 Z" fill="#f4c2a6"/>
<path d="M22.5,292 L22.5,292.0 L25.6,289.1 L28.8,292.2 L31.9,289.4 L35.0,292.5 L35,292.5 L35.0,292.5 L39.6,289.9 L44.2,293.3 L48.8,290.7 L53.4,294.1 L58.0,291.5 L62.6,294.9 L67.2,292.3 L71.8,295.7 L76.4,293.1 L81.0,296.5 L81,347 L22,327.6 Z" fill="#a0dbf3" stroke="#7ab4cc" stroke-width="0.5"/>
<path d="M24,300 C35,298 55,300 80,302 L80,312 C60,308 40,306 24,308 Z" fill="#c8ecf9" opacity="0.7"/>
<path d="M81,297 L81.0,297.0 L85.0,300.8 L89.0,297.5 L93.0,301.2 L97.0,298.0 L101.0,301.8 L105.0,298.5 L109.0,302.2 L113.0,299.0 L113,334 L81,347 Z" fill="#22a0d8"/>
<path d="M87,288 L87,318" stroke="#17603a" stroke-width="1.8" fill="none"/>
<path d="M87,312 C92,314 82,317 87,319 C93,321 81,324 87,326 C93,328 80,331 86,333 C94,335 80,338 86,340" stroke="#1c7040" stroke-width="3.4" fill="none" stroke-linecap="round"/>
<path d="M80,338 C83,342 91,342 94,338 C92,333 88,331 84,333" stroke="#1a6a3c" stroke-width="3.2" fill="none"/>
<path d="M101,293 C105,298 107,318 106.5,331 C106,338 97,338 96.5,331 C96,318 97,298 101,293 Z" fill="#f4f0f4" stroke="#c8b0c0" stroke-width="0.5"/>
<path d="M101,297 C103.5,302 105,318 104.5,329 C104,334 98.5,334 98.5,329 C98,318 99,302 101,297 Z" fill="#9e2a78"/>
<path d="M101.5,332 C101,310 103,290 107,277 C109,271 111,268 113,266" stroke="#4a3030" stroke-width="1" fill="none"/>
<path d="M106,303 L109,301 L111,304 L109,307 Z" fill="#fff"/>
<path d="M22.5,328 C25,319 30,309 36,304 C41,300 46,303 44.5,310 C43,317 35,323 22.5,328 Z" fill="#f6f3d4"/>
<path d="M25,325 C28,318 32,311 37,307 C40,305 42.5,307 41.5,311 C40,316 33,321 25,325 Z" fill="#f8eeb8"/>
<path d="M30,319 C33,315 36,312 38.5,310" stroke="#e8b8dc" stroke-width="1.6" fill="none" stroke-linecap="round"/>
<path d="M44,338 C45,330 45.5,320 46,306 C46,300 47,299.5 48,300 C50,301 49.5,306 49,313 C48.5,322 46.5,330 47,337" stroke="#586c7a" stroke-width="1.4" fill="none"/>
<path d="M53,306 C55,314 51,322 54,330 C56,336 53,340 55,344 M59,308 C58,316 56,324 57,332" stroke="#dde25a" stroke-width="1.5" fill="none"/>
<ellipse cx="54" cy="305.5" rx="1.6" ry="3" fill="#f2d12c" transform="rotate(15 54 305.5)"/>
<ellipse cx="60.5" cy="307.5" rx="1.6" ry="2.8" fill="#f2d12c" transform="rotate(30 60.5 307.5)"/>
<circle cx="59" cy="323" r="2.1" fill="#f0d03a"/>
<circle cx="65" cy="317" r="2.2" fill="#f0d03a"/>
<circle cx="72" cy="323" r="2.1" fill="#f0d03a"/>
<path d="M59,323 C61,330 63,334 64,340 M72,323 C70,330 67,334 66,340 M65,317 C65,326 65,332 65,340" stroke="#d8dc6a" stroke-width="0.9" fill="none"/>
<path d="M60,286 C62,289 58,292 61,296 M56,288 L61,291 M65,288 L61,292" stroke="#f2d848" stroke-width="1.6" fill="none"/>
<g stroke="#c84a28" stroke-width="1.7" fill="none" stroke-linecap="round">
<path d="M31.6,337 C36,337.5 41,338.5 45.7,339.4"/>
<path d="M44.1,341 C48,341.5 52,341 55.1,341"/>
<path d="M52,347.2 C55,346 57,345.5 59.9,344.9"/>
<path d="M33,345 C35,347 37,348 39.4,348"/>
</g>
<ellipse cx="55.1" cy="355.9" rx="2.3" ry="1.4" fill="#d84a30"/>
<g stroke="#56697a" stroke-width="1.4" fill="none" stroke-linecap="round">
<path d="M24.5,334.6 C27,333 30,331.5 33.1,330.7"/>
<path d="M37,338.6 C37.2,336 37.5,334 37.9,332.3"/>
<path d="M59.9,340 C60.5,343 61,345.5 61.4,348"/>
<path d="M61.4,348.8 C65,348 69,347 72.4,346.4"/>
</g>

<path d="M83.4,348 C92,346 101,344 110.1,341.7" stroke="#c86a30" stroke-width="1.2" fill="none"/>
</g>

<!-- 05_muscle.svg -->
<g>
<path d="M484,277 C495,274 510,271 525,269 C538,267.5 550,266.5 558,267 C566,268 572,270 576,274 L545,352 C540,351 538,351 536,349 C524,338 512,322 500,305 C493,298 487,292 484,288 Z" fill="#f3c1ac" stroke="#c99080" stroke-width="0.8"/>
<path d="M485,281 C500,279 520,276 540,273 C530,278 515,282 500,284 C493,284 488,283 485,281 Z" fill="#fbe0d4"/>
<path d="M486,286 C500,288 515,292 528,300 C520,300 508,296 498,292 C492,290 488,288 486,286 Z" fill="#fbddd0"/>
<path d="M487,289 C500,302 512,318 526,336" stroke="#e5a690" stroke-width="1.2" fill="none"/>
<path d="M492,286 C505,294 516,305 524,320" stroke="#f9d6c8" stroke-width="1.6" fill="none"/>
<path d="M554.4,271 C564,271 572,274 579,279.7 C585,285 588.5,290 589.3,296 C590,305 590,315 589.1,322 C588,327 586,330 583,333 C575,342 565,350 556,352.4 C551,353 546,353 542.2,351.8 C535,347 529,341 524.5,334.1 C521.5,328 520.5,320 521.1,313.7 C521.5,304 524,292 528.6,285.1 C532,279 537,275 542.2,272.9 C546,271.5 550,271 554.4,271 Z" fill="#f8e8e6" stroke="#3f4a58" stroke-width="0.9"/>
<g><path d="M552.3,286.4 C552.2,289.8 549.5,294.6 547.3,296.6 C545.1,298.6 541.6,299.0 539.1,298.4 C536.6,297.7 533.4,295.5 532.2,292.6 C531.0,289.6 530.7,283.7 531.7,280.8 C532.7,277.9 535.5,276.0 538.2,275.3 C540.8,274.5 545.1,274.2 547.5,276.1 C549.8,277.9 552.3,282.9 552.3,286.4Z" fill="#f0a385" stroke="#f8e8e6" stroke-width="2.4" paint-order="stroke"/><circle cx="540.9" cy="284.5" r="0.8" fill="#e4876c"/><circle cx="550.4" cy="285.4" r="0.8" fill="#e4876c"/><circle cx="537.4" cy="279.9" r="0.8" fill="#e4876c"/><circle cx="542.1" cy="287.6" r="0.8" fill="#e4876c"/><circle cx="539.3" cy="286.1" r="0.8" fill="#e4876c"/><circle cx="543.1" cy="291.2" r="0.8" fill="#e4876c"/><circle cx="547.6" cy="287.8" r="0.8" fill="#e4876c"/><circle cx="533.7" cy="289.9" r="0.8" fill="#e4876c"/><circle cx="534.3" cy="285.5" r="0.8" fill="#e4876c"/><circle cx="534.1" cy="286.5" r="0.8" fill="#e4876c"/><circle cx="536.9" cy="287.9" r="0.8" fill="#e4876c"/><circle cx="550.6" cy="286.3" r="0.8" fill="#e4876c"/><circle cx="545.6" cy="279.2" r="0.8" fill="#e4876c"/><circle cx="539.8" cy="291.0" r="0.8" fill="#e4876c"/><circle cx="540.9" cy="289.1" r="0.8" fill="#e4876c"/><circle cx="542.1" cy="280.0" r="0.8" fill="#e4876c"/><circle cx="544.7" cy="281.2" r="0.8" fill="#e4876c"/><circle cx="549.6" cy="284.0" r="0.8" fill="#e4876c"/><circle cx="545.7" cy="286.5" r="0.8" fill="#e4876c"/><circle cx="546.8" cy="282.7" r="0.8" fill="#e4876c"/><circle cx="547.2" cy="285.7" r="0.8" fill="#e4876c"/><circle cx="548.0" cy="290.1" r="0.8" fill="#e4876c"/><circle cx="542.3" cy="281.2" r="0.8" fill="#e4876c"/><circle cx="546.0" cy="289.6" r="0.8" fill="#e4876c"/><circle cx="549.2" cy="284.5" r="0.8" fill="#e4876c"/><circle cx="544.8" cy="289.9" r="0.8" fill="#e4876c"/><circle cx="543.3" cy="288.0" r="0.8" fill="#e4876c"/><circle cx="542.6" cy="282.4" r="0.8" fill="#e4876c"/><circle cx="535.8" cy="284.0" r="0.8" fill="#e4876c"/><circle cx="544.3" cy="294.7" r="0.8" fill="#e4876c"/><circle cx="546.5" cy="292.6" r="0.8" fill="#e4876c"/><circle cx="545.9" cy="291.0" r="0.8" fill="#e4876c"/><circle cx="542.6" cy="291.7" r="0.8" fill="#e4876c"/><circle cx="549.5" cy="284.8" r="0.8" fill="#e4876c"/><circle cx="538.6" cy="295.6" r="0.8" fill="#e4876c"/><circle cx="542.9" cy="292.8" r="0.8" fill="#e4876c"/><path d="M577.5,285.9 C577.8,289.2 576.6,292.4 574.5,294.2 C572.4,296.0 568.0,297.7 565.1,296.9 C562.2,296.1 558.2,292.2 556.9,289.4 C555.6,286.6 556.2,282.9 557.2,280.1 C558.3,277.4 560.7,273.8 563.3,272.9 C565.9,271.9 570.5,272.3 572.9,274.5 C575.3,276.6 577.3,282.6 577.5,285.9Z" fill="#f0a385" stroke="#f8e8e6" stroke-width="2.4" paint-order="stroke"/><circle cx="562.4" cy="290.0" r="0.8" fill="#e4876c"/><circle cx="572.8" cy="282.9" r="0.8" fill="#e4876c"/><circle cx="559.1" cy="280.3" r="0.8" fill="#e4876c"/><circle cx="568.2" cy="288.6" r="0.8" fill="#e4876c"/><circle cx="573.6" cy="279.6" r="0.8" fill="#e4876c"/><circle cx="566.7" cy="289.4" r="0.8" fill="#e4876c"/><circle cx="566.1" cy="274.5" r="0.8" fill="#e4876c"/><circle cx="569.6" cy="294.6" r="0.8" fill="#e4876c"/><circle cx="571.9" cy="279.2" r="0.8" fill="#e4876c"/><circle cx="564.1" cy="286.4" r="0.8" fill="#e4876c"/><circle cx="575.4" cy="287.3" r="0.8" fill="#e4876c"/><circle cx="567.3" cy="293.7" r="0.8" fill="#e4876c"/><circle cx="566.3" cy="294.5" r="0.8" fill="#e4876c"/><circle cx="562.6" cy="281.5" r="0.8" fill="#e4876c"/><circle cx="570.2" cy="292.9" r="0.8" fill="#e4876c"/><circle cx="570.7" cy="286.9" r="0.8" fill="#e4876c"/><circle cx="558.9" cy="281.2" r="0.8" fill="#e4876c"/><circle cx="563.1" cy="281.1" r="0.8" fill="#e4876c"/><circle cx="570.3" cy="282.4" r="0.8" fill="#e4876c"/><circle cx="571.4" cy="285.4" r="0.8" fill="#e4876c"/><circle cx="564.6" cy="285.7" r="0.8" fill="#e4876c"/><circle cx="569.2" cy="290.6" r="0.8" fill="#e4876c"/><circle cx="563.7" cy="283.1" r="0.8" fill="#e4876c"/><circle cx="561.1" cy="292.5" r="0.8" fill="#e4876c"/><circle cx="574.0" cy="283.7" r="0.8" fill="#e4876c"/><circle cx="564.2" cy="277.2" r="0.8" fill="#e4876c"/><circle cx="567.8" cy="286.3" r="0.8" fill="#e4876c"/><circle cx="575.3" cy="285.9" r="0.8" fill="#e4876c"/><circle cx="564.0" cy="274.8" r="0.8" fill="#e4876c"/><circle cx="573.9" cy="285.9" r="0.8" fill="#e4876c"/><circle cx="559.0" cy="285.8" r="0.8" fill="#e4876c"/><circle cx="562.9" cy="294.5" r="0.8" fill="#e4876c"/><circle cx="572.7" cy="288.4" r="0.8" fill="#e4876c"/><circle cx="566.0" cy="274.7" r="0.8" fill="#e4876c"/><circle cx="566.1" cy="275.9" r="0.8" fill="#e4876c"/><circle cx="569.0" cy="275.0" r="0.8" fill="#e4876c"/><circle cx="562.2" cy="291.9" r="0.8" fill="#e4876c"/><path d="M541.6,315.5 C541.5,318.6 540.3,322.2 538.4,323.9 C536.4,325.7 532.3,326.8 530.0,326.0 C527.8,325.2 525.8,322.1 524.9,319.2 C524.1,316.3 524.1,311.5 524.9,308.7 C525.8,306.0 527.6,303.2 529.9,302.6 C532.3,302.1 537.1,303.3 539.0,305.4 C541.0,307.6 541.7,312.4 541.6,315.5Z" fill="#f0a385" stroke="#f8e8e6" stroke-width="2.4" paint-order="stroke"/><circle cx="532.1" cy="307.9" r="0.8" fill="#e4876c"/><circle cx="532.2" cy="306.4" r="0.8" fill="#e4876c"/><circle cx="526.4" cy="317.8" r="0.8" fill="#e4876c"/><circle cx="538.2" cy="318.8" r="0.8" fill="#e4876c"/><circle cx="538.3" cy="315.8" r="0.8" fill="#e4876c"/><circle cx="529.2" cy="314.9" r="0.8" fill="#e4876c"/><circle cx="531.1" cy="307.4" r="0.8" fill="#e4876c"/><circle cx="527.4" cy="307.7" r="0.8" fill="#e4876c"/><circle cx="532.7" cy="315.4" r="0.8" fill="#e4876c"/><circle cx="530.8" cy="322.4" r="0.8" fill="#e4876c"/><circle cx="533.6" cy="318.4" r="0.8" fill="#e4876c"/><circle cx="537.6" cy="309.6" r="0.8" fill="#e4876c"/><circle cx="526.2" cy="317.8" r="0.8" fill="#e4876c"/><circle cx="529.9" cy="321.8" r="0.8" fill="#e4876c"/><circle cx="534.2" cy="320.8" r="0.8" fill="#e4876c"/><circle cx="535.1" cy="305.0" r="0.8" fill="#e4876c"/><circle cx="536.0" cy="309.9" r="0.8" fill="#e4876c"/><circle cx="529.1" cy="311.4" r="0.8" fill="#e4876c"/><circle cx="536.1" cy="319.8" r="0.8" fill="#e4876c"/><circle cx="536.2" cy="306.1" r="0.8" fill="#e4876c"/><circle cx="531.0" cy="304.5" r="0.8" fill="#e4876c"/><circle cx="532.2" cy="318.5" r="0.8" fill="#e4876c"/><circle cx="529.0" cy="316.0" r="0.8" fill="#e4876c"/><circle cx="533.8" cy="320.8" r="0.8" fill="#e4876c"/><circle cx="529.1" cy="309.1" r="0.8" fill="#e4876c"/><circle cx="530.0" cy="323.0" r="0.8" fill="#e4876c"/><circle cx="537.6" cy="313.5" r="0.8" fill="#e4876c"/><circle cx="533.9" cy="315.1" r="0.8" fill="#e4876c"/><circle cx="533.7" cy="312.8" r="0.8" fill="#e4876c"/><path d="M563.9,310.7 C563.9,314.5 562.3,319.1 560.4,321.4 C558.4,323.6 554.7,325.0 552.0,324.1 C549.2,323.2 545.3,319.8 543.9,316.2 C542.6,312.7 543.1,306.1 544.1,302.8 C545.1,299.5 547.3,297.3 550.0,296.6 C552.6,296.0 557.7,296.5 560.0,298.9 C562.3,301.2 563.8,307.0 563.9,310.7Z" fill="#f0a385" stroke="#f8e8e6" stroke-width="2.4" paint-order="stroke"/><circle cx="548.0" cy="302.6" r="0.8" fill="#e4876c"/><circle cx="556.3" cy="298.5" r="0.8" fill="#e4876c"/><circle cx="551.5" cy="304.9" r="0.8" fill="#e4876c"/><circle cx="549.3" cy="310.8" r="0.8" fill="#e4876c"/><circle cx="559.4" cy="310.6" r="0.8" fill="#e4876c"/><circle cx="552.2" cy="304.8" r="0.8" fill="#e4876c"/><circle cx="552.3" cy="317.3" r="0.8" fill="#e4876c"/><circle cx="551.0" cy="301.5" r="0.8" fill="#e4876c"/><circle cx="547.1" cy="302.8" r="0.8" fill="#e4876c"/><circle cx="546.7" cy="316.9" r="0.8" fill="#e4876c"/><circle cx="555.3" cy="307.9" r="0.8" fill="#e4876c"/><circle cx="560.2" cy="305.6" r="0.8" fill="#e4876c"/><circle cx="557.3" cy="316.1" r="0.8" fill="#e4876c"/><circle cx="547.0" cy="301.5" r="0.8" fill="#e4876c"/><circle cx="548.2" cy="316.6" r="0.8" fill="#e4876c"/><circle cx="559.0" cy="302.3" r="0.8" fill="#e4876c"/><circle cx="558.9" cy="307.1" r="0.8" fill="#e4876c"/><circle cx="550.7" cy="305.4" r="0.8" fill="#e4876c"/><circle cx="551.7" cy="298.8" r="0.8" fill="#e4876c"/><circle cx="548.2" cy="301.8" r="0.8" fill="#e4876c"/><circle cx="555.1" cy="321.6" r="0.8" fill="#e4876c"/><circle cx="562.1" cy="308.5" r="0.8" fill="#e4876c"/><circle cx="545.2" cy="307.4" r="0.8" fill="#e4876c"/><circle cx="549.4" cy="320.8" r="0.8" fill="#e4876c"/><circle cx="556.4" cy="304.2" r="0.8" fill="#e4876c"/><circle cx="558.4" cy="314.1" r="0.8" fill="#e4876c"/><circle cx="545.5" cy="306.6" r="0.8" fill="#e4876c"/><circle cx="551.6" cy="310.2" r="0.8" fill="#e4876c"/><circle cx="553.9" cy="307.0" r="0.8" fill="#e4876c"/><circle cx="554.3" cy="305.0" r="0.8" fill="#e4876c"/><circle cx="549.0" cy="319.6" r="0.8" fill="#e4876c"/><circle cx="555.3" cy="313.7" r="0.8" fill="#e4876c"/><circle cx="545.4" cy="308.9" r="0.8" fill="#e4876c"/><circle cx="557.2" cy="301.2" r="0.8" fill="#e4876c"/><circle cx="559.1" cy="307.1" r="0.8" fill="#e4876c"/><circle cx="555.6" cy="308.8" r="0.8" fill="#e4876c"/><circle cx="554.3" cy="318.9" r="0.8" fill="#e4876c"/><circle cx="551.2" cy="320.4" r="0.8" fill="#e4876c"/><circle cx="548.9" cy="303.1" r="0.8" fill="#e4876c"/><circle cx="556.9" cy="302.2" r="0.8" fill="#e4876c"/><circle cx="551.0" cy="317.2" r="0.8" fill="#e4876c"/><circle cx="558.0" cy="300.2" r="0.8" fill="#e4876c"/><circle cx="555.3" cy="321.2" r="0.8" fill="#e4876c"/><circle cx="559.6" cy="308.2" r="0.8" fill="#e4876c"/><path d="M586.7,308.8 C586.6,313.2 585.3,319.5 583.6,322.1 C581.8,324.8 578.4,325.9 576.1,324.5 C573.9,323.2 571.0,318.1 570.0,314.2 C568.9,310.3 569.0,304.9 570.0,301.2 C571.1,297.4 574.1,292.4 576.4,291.6 C578.7,290.7 582.0,293.1 583.7,296.0 C585.4,298.9 586.7,304.4 586.7,308.8Z" fill="#f0a385" stroke="#f8e8e6" stroke-width="2.4" paint-order="stroke"/><circle cx="573.6" cy="306.2" r="0.8" fill="#e4876c"/><circle cx="585.1" cy="304.7" r="0.8" fill="#e4876c"/><circle cx="577.6" cy="318.6" r="0.8" fill="#e4876c"/><circle cx="581.6" cy="315.5" r="0.8" fill="#e4876c"/><circle cx="581.0" cy="295.7" r="0.8" fill="#e4876c"/><circle cx="574.1" cy="309.7" r="0.8" fill="#e4876c"/><circle cx="580.3" cy="319.3" r="0.8" fill="#e4876c"/><circle cx="580.6" cy="306.1" r="0.8" fill="#e4876c"/><circle cx="578.4" cy="306.3" r="0.8" fill="#e4876c"/><circle cx="579.4" cy="315.1" r="0.8" fill="#e4876c"/><circle cx="576.6" cy="300.8" r="0.8" fill="#e4876c"/><circle cx="574.6" cy="317.7" r="0.8" fill="#e4876c"/><circle cx="583.2" cy="316.2" r="0.8" fill="#e4876c"/><circle cx="582.0" cy="315.9" r="0.8" fill="#e4876c"/><circle cx="578.2" cy="315.1" r="0.8" fill="#e4876c"/><circle cx="573.4" cy="306.7" r="0.8" fill="#e4876c"/><circle cx="574.8" cy="315.2" r="0.8" fill="#e4876c"/><circle cx="575.3" cy="307.4" r="0.8" fill="#e4876c"/><circle cx="579.9" cy="319.7" r="0.8" fill="#e4876c"/><circle cx="574.7" cy="300.3" r="0.8" fill="#e4876c"/><circle cx="581.6" cy="299.2" r="0.8" fill="#e4876c"/><circle cx="580.4" cy="302.9" r="0.8" fill="#e4876c"/><circle cx="577.8" cy="295.2" r="0.8" fill="#e4876c"/><circle cx="581.6" cy="303.7" r="0.8" fill="#e4876c"/><circle cx="575.4" cy="321.5" r="0.8" fill="#e4876c"/><circle cx="579.7" cy="323.0" r="0.8" fill="#e4876c"/><circle cx="580.3" cy="305.0" r="0.8" fill="#e4876c"/><circle cx="578.6" cy="321.1" r="0.8" fill="#e4876c"/><circle cx="578.1" cy="313.1" r="0.8" fill="#e4876c"/><circle cx="580.6" cy="300.2" r="0.8" fill="#e4876c"/><circle cx="578.9" cy="303.4" r="0.8" fill="#e4876c"/><circle cx="573.2" cy="315.5" r="0.8" fill="#e4876c"/><circle cx="581.5" cy="309.2" r="0.8" fill="#e4876c"/><circle cx="575.3" cy="295.7" r="0.8" fill="#e4876c"/><circle cx="580.7" cy="307.5" r="0.8" fill="#e4876c"/><circle cx="571.7" cy="308.0" r="0.8" fill="#e4876c"/><circle cx="572.1" cy="308.3" r="0.8" fill="#e4876c"/><circle cx="578.9" cy="312.1" r="0.8" fill="#e4876c"/><circle cx="579.3" cy="310.3" r="0.8" fill="#e4876c"/><circle cx="573.2" cy="305.1" r="0.8" fill="#e4876c"/><circle cx="575.6" cy="306.1" r="0.8" fill="#e4876c"/><circle cx="579.5" cy="314.6" r="0.8" fill="#e4876c"/><path d="M554.8,339.8 C554.6,342.9 550.9,346.7 548.6,348.6 C546.3,350.5 543.9,352.0 541.0,351.3 C538.2,350.6 533.2,347.2 531.7,344.3 C530.1,341.4 530.4,336.9 531.7,334.0 C533.1,331.2 536.9,327.8 539.9,327.1 C542.9,326.4 547.2,327.9 549.7,330.0 C552.2,332.1 555.0,336.7 554.8,339.8Z" fill="#f0a385" stroke="#f8e8e6" stroke-width="2.4" paint-order="stroke"/><circle cx="539.7" cy="329.8" r="0.8" fill="#e4876c"/><circle cx="545.3" cy="345.1" r="0.8" fill="#e4876c"/><circle cx="542.1" cy="332.3" r="0.8" fill="#e4876c"/><circle cx="543.9" cy="342.7" r="0.8" fill="#e4876c"/><circle cx="541.3" cy="338.7" r="0.8" fill="#e4876c"/><circle cx="549.5" cy="333.1" r="0.8" fill="#e4876c"/><circle cx="539.9" cy="329.6" r="0.8" fill="#e4876c"/><circle cx="538.1" cy="334.0" r="0.8" fill="#e4876c"/><circle cx="536.7" cy="334.5" r="0.8" fill="#e4876c"/><circle cx="551.4" cy="337.8" r="0.8" fill="#e4876c"/><circle cx="542.0" cy="348.6" r="0.8" fill="#e4876c"/><circle cx="542.2" cy="329.7" r="0.8" fill="#e4876c"/><circle cx="545.0" cy="332.8" r="0.8" fill="#e4876c"/><circle cx="550.0" cy="333.0" r="0.8" fill="#e4876c"/><circle cx="539.5" cy="330.3" r="0.8" fill="#e4876c"/><circle cx="543.1" cy="332.3" r="0.8" fill="#e4876c"/><circle cx="542.0" cy="336.1" r="0.8" fill="#e4876c"/><circle cx="538.8" cy="344.7" r="0.8" fill="#e4876c"/><circle cx="548.5" cy="339.2" r="0.8" fill="#e4876c"/><circle cx="537.4" cy="332.6" r="0.8" fill="#e4876c"/><circle cx="543.6" cy="348.7" r="0.8" fill="#e4876c"/><circle cx="539.6" cy="333.6" r="0.8" fill="#e4876c"/><circle cx="538.4" cy="332.3" r="0.8" fill="#e4876c"/><circle cx="536.4" cy="337.5" r="0.8" fill="#e4876c"/><circle cx="550.5" cy="338.8" r="0.8" fill="#e4876c"/><circle cx="539.9" cy="330.2" r="0.8" fill="#e4876c"/><circle cx="544.0" cy="338.6" r="0.8" fill="#e4876c"/><circle cx="536.1" cy="332.9" r="0.8" fill="#e4876c"/><circle cx="542.2" cy="345.3" r="0.8" fill="#e4876c"/><circle cx="546.7" cy="340.2" r="0.8" fill="#e4876c"/><circle cx="540.3" cy="341.1" r="0.8" fill="#e4876c"/><circle cx="542.4" cy="348.6" r="0.8" fill="#e4876c"/><circle cx="535.7" cy="336.5" r="0.8" fill="#e4876c"/><circle cx="549.9" cy="337.2" r="0.8" fill="#e4876c"/><circle cx="550.5" cy="338.5" r="0.8" fill="#e4876c"/><circle cx="543.5" cy="336.2" r="0.8" fill="#e4876c"/><circle cx="535.4" cy="333.6" r="0.8" fill="#e4876c"/><circle cx="551.8" cy="341.6" r="0.8" fill="#e4876c"/><circle cx="546.2" cy="344.8" r="0.8" fill="#e4876c"/><circle cx="545.9" cy="345.1" r="0.8" fill="#e4876c"/></g>
<path d="M554.4,271 C564,271 572,274 579,279.7 C585,285 588.5,290 589.3,296 C590,305 590,315 589.1,322 C588,327 586,330 583,333 C575,342 565,350 556,352.4 C551,353 546,353 542.2,351.8 C535,347 529,341 524.5,334.1 C521.5,328 520.5,320 521.1,313.7 C521.5,304 524,292 528.6,285.1 C532,279 537,275 542.2,272.9 C546,271.5 550,271 554.4,271 Z" fill="none" stroke="#3f4a58" stroke-width="0.9"/>
<g fill="#3d5878"><path d="M552,271.5 L557,271.5 L554.5,274 Z"/><path d="M553,293 L556,296 L551,296.5 Z"/><path d="M525,296 L528,293 L528,298 Z"/><path d="M541,301 L544,300 L542,303 Z"/><path d="M565,299.5 L568,298 L567,301.5 Z"/><path d="M547,327 L551,325 L550,329 Z"/><path d="M526,329 L529,331 L525,332 Z"/><path d="M567,323 L570,325 L566,326 Z"/><path d="M582,283 L584,286 L580,286 Z"/><path d="M554,351 L557,350 L555,353 Z"/></g>
<path d="M556.9,326 C558,320 563,318 567.1,320.3 C575,325 584,333 597,339 L588,372 C579,370 572,367 567.1,361.4 C561,355 557,350 556.9,344.3 C556,338 556,331 556.9,326 Z" fill="#f3d3ae" stroke="#b8906a" stroke-width="0.7"/>
<g fill="none" stroke="#d9aa80" stroke-width="1.1">
<path d="M558,332 C562,346 570,357 584,366"/>
<path d="M561,325 C566,339 574,350 587,358"/>
<path d="M566,321 C572,333 580,343 592,350"/>
<path d="M572,323 C579,331 587,338 596,343"/>
</g>
<g fill="none" stroke="#fbe9d2" stroke-width="1.4">
<path d="M558,338 C562,350 569,360 580,368"/>
<path d="M563,328 C568,341 576,351 588,362"/>
<path d="M569,323 C575,334 583,343 593,347"/>
</g>
<ellipse cx="594.3" cy="355.1" rx="14" ry="17.2" transform="rotate(-12 594.3 355.1)" fill="#f0a88c" stroke="#b07058" stroke-width="0.8"/>
<g fill="none" stroke="#e88e74" stroke-width="0.6"><circle cx="590" cy="347" r="3"/><circle cx="598" cy="350" r="3.2"/><circle cx="592" cy="358" r="3"/><circle cx="599" cy="362" r="2.6"/><circle cx="588" cy="365" r="2.4"/></g>
<path d="M592,360 C600,358 608,355 614,354.5 L618.6,366 C610,366 600,365 592,362 Z" fill="#f4b6a6" stroke="#c48070" stroke-width="0.6"/>
<ellipse cx="622" cy="355.7" rx="8" ry="10.3" transform="rotate(-8 622 355.7)" fill="#f2a690" stroke="#c07060" stroke-width="0.8"/>
<g fill="#fde8e2"><circle cx="618.8" cy="348.2" r="0.9"/><circle cx="621.6" cy="348.2" r="0.9"/><circle cx="624.4" cy="348.2" r="0.9"/><circle cx="617.4" cy="351.2" r="0.9"/><circle cx="620.2" cy="351.2" r="0.9"/><circle cx="623.0" cy="351.2" r="0.9"/><circle cx="625.8" cy="351.2" r="0.9"/><circle cx="616.0" cy="354.2" r="0.9"/><circle cx="618.8" cy="354.2" r="0.9"/><circle cx="621.6" cy="354.2" r="0.9"/><circle cx="624.4" cy="354.2" r="0.9"/><circle cx="627.2" cy="354.2" r="0.9"/><circle cx="617.4" cy="357.2" r="0.9"/><circle cx="620.2" cy="357.2" r="0.9"/><circle cx="623.0" cy="357.2" r="0.9"/><circle cx="625.8" cy="357.2" r="0.9"/><circle cx="628.6" cy="357.2" r="0.9"/><circle cx="616.0" cy="360.2" r="0.9"/><circle cx="618.8" cy="360.2" r="0.9"/><circle cx="621.6" cy="360.2" r="0.9"/><circle cx="624.4" cy="360.2" r="0.9"/><circle cx="627.2" cy="360.2" r="0.9"/><circle cx="620.2" cy="363.2" r="0.9"/><circle cx="623.0" cy="363.2" r="0.9"/><circle cx="625.8" cy="363.2" r="0.9"/></g>
<path d="M629,352 L640,350.5 L640,357 L629,358 Z" fill="#f2b0a2" stroke="#c08070" stroke-width="0.6"/>
<ellipse cx="642" cy="353.5" rx="2.6" ry="3.4" fill="#f09a90" stroke="#c07070" stroke-width="0.6"/>
<g fill="none" stroke-linecap="round">
<g stroke="#c88d99" stroke-width="2">
<path d="M644,352 C660,356 680,364 696,371"/>
<path d="M644,353 C660,360 676,368 691,379"/>
<path d="M644,354 C655,362 666,372 679,381"/>
<path d="M644,355 C653,364 662,374 673,385"/>
<path d="M644,356 C652,364 660,372 666,382"/>
</g>
<g stroke="#f4ccd4" stroke-width="0.9">
<path d="M644,352 C660,356 680,364 696,371"/>
<path d="M644,353 C660,360 676,368 691,379"/>
<path d="M644,354 C655,362 666,372 679,381"/>
<path d="M644,355 C653,364 662,374 673,385"/>
<path d="M644,356 C652,364 660,372 666,382"/>
</g>
<path d="M666,380 C669,384 662,387 665,390 C668,393 661,396 664,399 M664,380 C661,384 668,387 665,390 C662,393 668,396 665,399" stroke="#c48894" stroke-width="1.6"/>
<path d="M666,380 C669,384 662,387 665,390 C668,393 661,396 664,399 M664,380 C661,384 668,387 665,390 C662,393 668,396 665,399" stroke="#f0c4cc" stroke-width="0.6"/>
</g>
</g>

<!-- 06_nerve.svg -->
<g>
<path d="M507.7,413.2 C502,418 500,426 502,436 C505,445 510,451 516,455 C525,463 540,474 552,484.3 C562,492 575,503 586.4,510 L600,513 L600,425.5 C590,426 575,429 565,432 C550,437 535,444 522,444 C512,443 506,436 506,428 C506,422 508,418 510,415.5 Z" fill="#f4d62a"/>
<path d="M504,422 C502,430 504,440 512,447 C522,452 538,451 552,447 C566,443 578,440 590,438 L592,470 C590,482 584,490 574,490 C560,480 540,466 524,456 C514,450 506,442 504,432 Z" fill="#f8e98e"/>
<path d="M507.5,414 C503,420 502,428 504,436 C508,444 514,450 522,455" stroke="#f9ec9a" stroke-width="3" fill="none"/>
<path d="M522,448 C538,450 554,446 570,443" stroke="#fcf4c4" stroke-width="5" fill="none" stroke-linecap="round"/>
<path d="M520,449 C536,451 552,447 568,444 C574,443 578,445 576,449" stroke="#ffffff" stroke-width="2" fill="none" stroke-linecap="round"/>
<path d="M507.7,413.2 C502,418 500,426 502,436 C505,445 510,451 516,455 C525,463 540,474 552,484.3 C562,492 575,503 586.4,510 L600,513 L600,425.5 C590,426 575,429 565,432 C550,437 535,444 522,444 C512,443 506,436 506,428 C506,422 508,418 510,415.5 Z" fill="none" stroke="#3c3a10" stroke-width="0.9"/>
<ellipse cx="604.8" cy="468.7" rx="26" ry="43.5" transform="rotate(-9 604.8 468.7)" fill="#f3e25a" stroke="#3c3a10" stroke-width="1"/>
<ellipse cx="605.6" cy="468.7" rx="23.6" ry="41.2" transform="rotate(-9 605.6 468.7)" fill="#d6e8b2" stroke="#5a6030" stroke-width="0.5"/>
<ellipse cx="601.6" cy="438.5" rx="5.0" ry="6.6" fill="#eff1da" stroke="#3e3e1c" stroke-width="0.8"/><circle cx="599.4" cy="435.7" r="0.7" fill="#a49c7c"/><circle cx="604.4" cy="437.1" r="0.8" fill="#a49c7c"/><circle cx="604.0" cy="439.1" r="0.8" fill="#a49c7c"/><circle cx="599.6" cy="434.9" r="0.5" fill="#a49c7c"/><circle cx="599.9" cy="438.9" r="0.6" fill="#a49c7c"/><circle cx="601.2" cy="438.3" r="0.5" fill="#a49c7c"/><circle cx="601.0" cy="442.9" r="0.7" fill="#a49c7c"/><circle cx="603.3" cy="442.0" r="0.5" fill="#a49c7c"/><circle cx="600.7" cy="437.4" r="0.5" fill="#a49c7c"/><circle cx="602.7" cy="437.0" r="0.5" fill="#a49c7c"/><circle cx="604.9" cy="438.0" r="0.6" fill="#a49c7c"/><circle cx="604.1" cy="437.7" r="0.7" fill="#a49c7c"/><circle cx="602.6" cy="442.8" r="0.7" fill="#a49c7c"/><circle cx="604.9" cy="437.6" r="0.6" fill="#a49c7c"/><circle cx="600.7" cy="440.0" r="0.5" fill="#a49c7c"/><circle cx="603.4" cy="439.5" r="0.7" fill="#a49c7c"/><circle cx="604.5" cy="438.6" r="0.6" fill="#a49c7c"/><circle cx="600.4" cy="442.4" r="0.6" fill="#a49c7c"/><circle cx="600.6" cy="441.5" r="0.7" fill="#a49c7c"/><circle cx="604.9" cy="440.1" r="0.5" fill="#a49c7c"/><circle cx="601.6" cy="434.2" r="0.5" fill="#a49c7c"/><circle cx="602.1" cy="435.8" r="0.7" fill="#a49c7c"/><circle cx="602.4" cy="438.6" r="0.5" fill="#a49c7c"/><circle cx="603.1" cy="437.9" r="0.7" fill="#a49c7c"/><circle cx="604.7" cy="436.6" r="0.6" fill="#a49c7c"/><circle cx="600.0" cy="441.2" r="0.7" fill="#a49c7c"/><circle cx="604.0" cy="441.0" r="0.7" fill="#a49c7c"/><circle cx="602.0" cy="437.8" r="0.8" fill="#a49c7c"/><circle cx="603.3" cy="440.0" r="0.7" fill="#a49c7c"/><ellipse cx="618.1" cy="450.3" rx="5.0" ry="7.3" fill="#eff1da" stroke="#3e3e1c" stroke-width="0.8"/><circle cx="619.9" cy="448.8" r="0.8" fill="#a49c7c"/><circle cx="616.2" cy="449.5" r="0.6" fill="#a49c7c"/><circle cx="618.5" cy="451.6" r="0.5" fill="#a49c7c"/><circle cx="616.8" cy="445.5" r="0.5" fill="#a49c7c"/><circle cx="621.4" cy="451.8" r="0.6" fill="#a49c7c"/><circle cx="616.7" cy="451.7" r="0.7" fill="#a49c7c"/><circle cx="619.2" cy="447.2" r="0.6" fill="#a49c7c"/><circle cx="621.3" cy="452.0" r="0.5" fill="#a49c7c"/><circle cx="614.9" cy="450.5" r="0.5" fill="#a49c7c"/><circle cx="617.7" cy="445.3" r="0.7" fill="#a49c7c"/><circle cx="618.4" cy="448.7" r="0.6" fill="#a49c7c"/><circle cx="620.0" cy="454.1" r="0.6" fill="#a49c7c"/><circle cx="614.7" cy="451.8" r="0.7" fill="#a49c7c"/><circle cx="620.5" cy="449.8" r="0.6" fill="#a49c7c"/><circle cx="617.8" cy="446.8" r="0.6" fill="#a49c7c"/><circle cx="617.0" cy="451.4" r="0.6" fill="#a49c7c"/><circle cx="621.6" cy="449.9" r="0.7" fill="#a49c7c"/><circle cx="616.0" cy="450.3" r="0.5" fill="#a49c7c"/><circle cx="617.7" cy="454.8" r="0.8" fill="#a49c7c"/><circle cx="616.1" cy="453.8" r="0.7" fill="#a49c7c"/><circle cx="617.1" cy="446.3" r="0.7" fill="#a49c7c"/><circle cx="616.2" cy="453.6" r="0.5" fill="#a49c7c"/><circle cx="615.0" cy="450.7" r="0.7" fill="#a49c7c"/><circle cx="617.2" cy="455.1" r="0.7" fill="#a49c7c"/><circle cx="617.8" cy="450.0" r="0.6" fill="#a49c7c"/><circle cx="618.1" cy="454.5" r="0.6" fill="#a49c7c"/><circle cx="619.3" cy="446.5" r="0.7" fill="#a49c7c"/><circle cx="616.5" cy="453.7" r="0.7" fill="#a49c7c"/><circle cx="619.1" cy="447.6" r="0.7" fill="#a49c7c"/><circle cx="620.1" cy="447.2" r="0.8" fill="#a49c7c"/><circle cx="620.6" cy="449.3" r="0.6" fill="#a49c7c"/><circle cx="619.7" cy="454.4" r="0.8" fill="#a49c7c"/><ellipse cx="589.8" cy="456.3" rx="4.4" ry="5.9" fill="#eff1da" stroke="#3e3e1c" stroke-width="0.8"/><circle cx="587.2" cy="456.8" r="0.7" fill="#a49c7c"/><circle cx="589.6" cy="454.6" r="0.7" fill="#a49c7c"/><circle cx="587.6" cy="454.6" r="0.6" fill="#a49c7c"/><circle cx="587.8" cy="453.7" r="0.7" fill="#a49c7c"/><circle cx="589.7" cy="455.6" r="0.5" fill="#a49c7c"/><circle cx="587.5" cy="457.5" r="0.5" fill="#a49c7c"/><circle cx="588.8" cy="453.3" r="0.5" fill="#a49c7c"/><circle cx="588.3" cy="456.7" r="0.5" fill="#a49c7c"/><circle cx="591.0" cy="458.0" r="0.5" fill="#a49c7c"/><circle cx="590.0" cy="457.0" r="0.6" fill="#a49c7c"/><circle cx="588.0" cy="458.5" r="0.7" fill="#a49c7c"/><circle cx="590.0" cy="460.3" r="0.5" fill="#a49c7c"/><circle cx="588.4" cy="457.5" r="0.6" fill="#a49c7c"/><circle cx="591.9" cy="458.8" r="0.6" fill="#a49c7c"/><circle cx="592.2" cy="457.0" r="0.5" fill="#a49c7c"/><circle cx="588.1" cy="455.6" r="0.7" fill="#a49c7c"/><circle cx="592.5" cy="455.3" r="0.6" fill="#a49c7c"/><circle cx="590.8" cy="453.2" r="0.6" fill="#a49c7c"/><circle cx="591.3" cy="458.8" r="0.6" fill="#a49c7c"/><circle cx="592.8" cy="455.2" r="0.7" fill="#a49c7c"/><circle cx="588.1" cy="459.5" r="0.5" fill="#a49c7c"/><circle cx="591.6" cy="458.3" r="0.7" fill="#a49c7c"/><circle cx="591.4" cy="458.9" r="0.8" fill="#a49c7c"/><path d="M608.2,451.6 L603.2,451.6 A5.5,7.9 0 0 0 603.2,467.4 L608.2,467.4 Z" fill="#f6e8b0" stroke="#4a4a20" stroke-width="0.6"/><ellipse cx="608.2" cy="459.5" rx="5.5" ry="7.9" fill="#eff1da" stroke="#3e3e1c" stroke-width="0.8"/><circle cx="606.4" cy="462.1" r="0.5" fill="#a49c7c"/><circle cx="607.2" cy="464.8" r="0.6" fill="#a49c7c"/><circle cx="611.8" cy="458.2" r="0.7" fill="#a49c7c"/><circle cx="608.0" cy="465.0" r="0.6" fill="#a49c7c"/><circle cx="606.3" cy="461.1" r="0.8" fill="#a49c7c"/><circle cx="606.1" cy="459.7" r="0.6" fill="#a49c7c"/><circle cx="610.4" cy="462.6" r="0.6" fill="#a49c7c"/><circle cx="607.3" cy="464.3" r="0.7" fill="#a49c7c"/><circle cx="611.0" cy="459.8" r="0.5" fill="#a49c7c"/><circle cx="611.4" cy="457.5" r="0.5" fill="#a49c7c"/><circle cx="608.0" cy="461.7" r="0.8" fill="#a49c7c"/><circle cx="607.4" cy="463.7" r="0.6" fill="#a49c7c"/><circle cx="606.3" cy="456.1" r="0.7" fill="#a49c7c"/><circle cx="610.7" cy="462.8" r="0.6" fill="#a49c7c"/><circle cx="606.0" cy="458.8" r="0.6" fill="#a49c7c"/><circle cx="605.6" cy="458.8" r="0.6" fill="#a49c7c"/><circle cx="608.1" cy="455.2" r="0.5" fill="#a49c7c"/><circle cx="608.2" cy="463.3" r="0.8" fill="#a49c7c"/><circle cx="610.4" cy="456.8" r="0.5" fill="#a49c7c"/><circle cx="608.7" cy="455.9" r="0.7" fill="#a49c7c"/><circle cx="607.4" cy="455.2" r="0.6" fill="#a49c7c"/><circle cx="610.3" cy="457.7" r="0.6" fill="#a49c7c"/><circle cx="609.2" cy="457.5" r="0.6" fill="#a49c7c"/><circle cx="608.7" cy="458.2" r="0.7" fill="#a49c7c"/><circle cx="607.3" cy="456.0" r="0.6" fill="#a49c7c"/><circle cx="608.9" cy="454.3" r="0.5" fill="#a49c7c"/><circle cx="605.3" cy="460.1" r="0.6" fill="#a49c7c"/><circle cx="607.5" cy="461.4" r="0.7" fill="#a49c7c"/><circle cx="608.6" cy="458.1" r="0.5" fill="#a49c7c"/><circle cx="609.7" cy="455.0" r="0.7" fill="#a49c7c"/><circle cx="611.5" cy="460.3" r="0.8" fill="#a49c7c"/><circle cx="611.5" cy="459.5" r="0.5" fill="#a49c7c"/><circle cx="609.2" cy="457.3" r="0.7" fill="#a49c7c"/><circle cx="611.3" cy="458.1" r="0.5" fill="#a49c7c"/><circle cx="607.2" cy="464.7" r="0.5" fill="#a49c7c"/><circle cx="606.3" cy="457.2" r="0.5" fill="#a49c7c"/><circle cx="607.6" cy="458.7" r="0.5" fill="#a49c7c"/><circle cx="607.4" cy="460.5" r="0.5" fill="#a49c7c"/><circle cx="605.2" cy="457.3" r="0.8" fill="#a49c7c"/><path d="M624.7,464.1 L619.7,464.1 A4.6,7.3 0 0 0 619.7,478.7 L624.7,478.7 Z" fill="#f6e8b0" stroke="#4a4a20" stroke-width="0.6"/><ellipse cx="624.7" cy="471.4" rx="4.6" ry="7.3" fill="#eff1da" stroke="#3e3e1c" stroke-width="0.8"/><circle cx="626.1" cy="473.9" r="0.6" fill="#a49c7c"/><circle cx="622.9" cy="469.3" r="0.8" fill="#a49c7c"/><circle cx="624.2" cy="472.3" r="0.7" fill="#a49c7c"/><circle cx="626.2" cy="474.7" r="0.6" fill="#a49c7c"/><circle cx="626.7" cy="469.3" r="0.7" fill="#a49c7c"/><circle cx="624.5" cy="475.2" r="0.5" fill="#a49c7c"/><circle cx="624.7" cy="467.7" r="0.5" fill="#a49c7c"/><circle cx="624.9" cy="474.5" r="0.7" fill="#a49c7c"/><circle cx="625.9" cy="475.3" r="0.7" fill="#a49c7c"/><circle cx="627.0" cy="473.6" r="0.5" fill="#a49c7c"/><circle cx="626.5" cy="474.2" r="0.5" fill="#a49c7c"/><circle cx="626.3" cy="468.9" r="0.6" fill="#a49c7c"/><circle cx="624.9" cy="470.6" r="0.7" fill="#a49c7c"/><circle cx="625.9" cy="472.1" r="0.8" fill="#a49c7c"/><circle cx="624.1" cy="469.2" r="0.5" fill="#a49c7c"/><circle cx="627.3" cy="470.7" r="0.7" fill="#a49c7c"/><circle cx="626.3" cy="474.5" r="0.6" fill="#a49c7c"/><circle cx="624.9" cy="474.4" r="0.7" fill="#a49c7c"/><circle cx="623.5" cy="474.0" r="0.5" fill="#a49c7c"/><circle cx="626.0" cy="467.8" r="0.7" fill="#a49c7c"/><circle cx="622.0" cy="473.3" r="0.6" fill="#a49c7c"/><circle cx="622.6" cy="469.3" r="0.7" fill="#a49c7c"/><circle cx="623.9" cy="472.4" r="0.5" fill="#a49c7c"/><circle cx="624.9" cy="472.4" r="0.8" fill="#a49c7c"/><circle cx="621.9" cy="471.9" r="0.5" fill="#a49c7c"/><circle cx="621.7" cy="472.3" r="0.7" fill="#a49c7c"/><circle cx="622.7" cy="472.9" r="0.5" fill="#a49c7c"/><circle cx="625.4" cy="473.1" r="0.6" fill="#a49c7c"/><circle cx="622.4" cy="474.6" r="0.5" fill="#a49c7c"/><circle cx="624.7" cy="474.1" r="0.5" fill="#a49c7c"/><ellipse cx="591.8" cy="479.3" rx="5.9" ry="9.9" fill="#eff1da" stroke="#3e3e1c" stroke-width="0.8"/><circle cx="591.3" cy="482.6" r="0.6" fill="#a49c7c"/><circle cx="595.7" cy="480.6" r="0.6" fill="#a49c7c"/><circle cx="595.0" cy="477.1" r="0.7" fill="#a49c7c"/><circle cx="587.8" cy="480.5" r="0.5" fill="#a49c7c"/><circle cx="590.7" cy="476.0" r="0.7" fill="#a49c7c"/><circle cx="591.6" cy="476.5" r="0.5" fill="#a49c7c"/><circle cx="593.8" cy="479.8" r="0.5" fill="#a49c7c"/><circle cx="588.5" cy="483.3" r="0.6" fill="#a49c7c"/><circle cx="590.7" cy="483.7" r="0.5" fill="#a49c7c"/><circle cx="591.4" cy="473.4" r="0.5" fill="#a49c7c"/><circle cx="592.0" cy="485.0" r="0.8" fill="#a49c7c"/><circle cx="590.1" cy="475.7" r="0.8" fill="#a49c7c"/><circle cx="592.8" cy="479.4" r="0.7" fill="#a49c7c"/><circle cx="591.1" cy="480.1" r="0.6" fill="#a49c7c"/><circle cx="594.8" cy="479.0" r="0.6" fill="#a49c7c"/><circle cx="592.7" cy="480.3" r="0.8" fill="#a49c7c"/><circle cx="587.8" cy="479.7" r="0.5" fill="#a49c7c"/><circle cx="591.8" cy="480.9" r="0.6" fill="#a49c7c"/><circle cx="593.8" cy="480.6" r="0.6" fill="#a49c7c"/><circle cx="591.5" cy="480.8" r="0.5" fill="#a49c7c"/><circle cx="593.5" cy="478.8" r="0.6" fill="#a49c7c"/><circle cx="589.3" cy="482.2" r="0.5" fill="#a49c7c"/><circle cx="591.3" cy="481.4" r="0.6" fill="#a49c7c"/><circle cx="594.6" cy="476.7" r="0.7" fill="#a49c7c"/><circle cx="591.9" cy="480.2" r="0.6" fill="#a49c7c"/><circle cx="588.7" cy="479.7" r="0.6" fill="#a49c7c"/><circle cx="589.3" cy="475.1" r="0.8" fill="#a49c7c"/><circle cx="590.8" cy="483.7" r="0.7" fill="#a49c7c"/><circle cx="592.0" cy="481.6" r="0.6" fill="#a49c7c"/><circle cx="594.9" cy="482.5" r="0.7" fill="#a49c7c"/><circle cx="591.2" cy="481.6" r="0.5" fill="#a49c7c"/><circle cx="591.8" cy="481.3" r="0.6" fill="#a49c7c"/><circle cx="590.0" cy="477.7" r="0.5" fill="#a49c7c"/><circle cx="591.5" cy="477.8" r="0.5" fill="#a49c7c"/><circle cx="591.2" cy="483.5" r="0.5" fill="#a49c7c"/><circle cx="589.7" cy="481.2" r="0.7" fill="#a49c7c"/><circle cx="588.1" cy="477.0" r="0.7" fill="#a49c7c"/><circle cx="592.0" cy="474.0" r="0.6" fill="#a49c7c"/><circle cx="593.2" cy="474.1" r="0.8" fill="#a49c7c"/><circle cx="591.3" cy="473.5" r="0.5" fill="#a49c7c"/><circle cx="592.8" cy="475.3" r="0.5" fill="#a49c7c"/><circle cx="593.4" cy="480.5" r="0.5" fill="#a49c7c"/><circle cx="590.8" cy="476.0" r="0.5" fill="#a49c7c"/><circle cx="592.1" cy="474.1" r="0.5" fill="#a49c7c"/><circle cx="593.2" cy="480.1" r="0.6" fill="#a49c7c"/><circle cx="594.4" cy="474.0" r="0.7" fill="#a49c7c"/><circle cx="592.1" cy="483.9" r="0.6" fill="#a49c7c"/><circle cx="591.6" cy="480.0" r="0.7" fill="#a49c7c"/><circle cx="593.5" cy="474.0" r="0.5" fill="#a49c7c"/><circle cx="590.1" cy="478.8" r="0.7" fill="#a49c7c"/><circle cx="588.0" cy="481.5" r="0.7" fill="#a49c7c"/><circle cx="593.5" cy="482.0" r="0.8" fill="#a49c7c"/><path d="M609.5,475.4 L604.5,475.4 A5.3,7.9 0 0 0 604.5,491.2 L609.5,491.2 Z" fill="#f6e8b0" stroke="#4a4a20" stroke-width="0.6"/><ellipse cx="609.5" cy="483.3" rx="5.3" ry="7.9" fill="#eff1da" stroke="#3e3e1c" stroke-width="0.8"/><circle cx="607.1" cy="484.2" r="0.6" fill="#a49c7c"/><circle cx="609.9" cy="477.9" r="0.6" fill="#a49c7c"/><circle cx="612.3" cy="482.5" r="0.5" fill="#a49c7c"/><circle cx="610.5" cy="480.0" r="0.5" fill="#a49c7c"/><circle cx="610.2" cy="483.2" r="0.7" fill="#a49c7c"/><circle cx="606.0" cy="483.9" r="0.6" fill="#a49c7c"/><circle cx="609.9" cy="486.2" r="0.5" fill="#a49c7c"/><circle cx="607.4" cy="482.0" r="0.7" fill="#a49c7c"/><circle cx="609.6" cy="486.6" r="0.5" fill="#a49c7c"/><circle cx="612.9" cy="482.7" r="0.7" fill="#a49c7c"/><circle cx="607.8" cy="480.9" r="0.5" fill="#a49c7c"/><circle cx="610.8" cy="479.9" r="0.5" fill="#a49c7c"/><circle cx="610.1" cy="484.8" r="0.7" fill="#a49c7c"/><circle cx="610.9" cy="481.8" r="0.7" fill="#a49c7c"/><circle cx="608.1" cy="487.4" r="0.8" fill="#a49c7c"/><circle cx="607.1" cy="479.8" r="0.6" fill="#a49c7c"/><circle cx="612.2" cy="483.6" r="0.7" fill="#a49c7c"/><circle cx="610.4" cy="486.5" r="0.6" fill="#a49c7c"/><circle cx="611.6" cy="483.8" r="0.6" fill="#a49c7c"/><circle cx="606.4" cy="484.0" r="0.6" fill="#a49c7c"/><circle cx="612.9" cy="482.7" r="0.8" fill="#a49c7c"/><circle cx="608.4" cy="479.0" r="0.6" fill="#a49c7c"/><circle cx="610.2" cy="480.1" r="0.7" fill="#a49c7c"/><circle cx="608.3" cy="479.7" r="0.5" fill="#a49c7c"/><circle cx="610.5" cy="484.1" r="0.6" fill="#a49c7c"/><circle cx="606.6" cy="480.9" r="0.7" fill="#a49c7c"/><circle cx="608.2" cy="488.3" r="0.5" fill="#a49c7c"/><circle cx="609.3" cy="481.8" r="0.7" fill="#a49c7c"/><circle cx="607.7" cy="478.5" r="0.8" fill="#a49c7c"/><circle cx="608.2" cy="478.6" r="0.7" fill="#a49c7c"/><circle cx="608.2" cy="481.7" r="0.6" fill="#a49c7c"/><circle cx="611.0" cy="481.6" r="0.8" fill="#a49c7c"/><circle cx="607.2" cy="482.3" r="0.5" fill="#a49c7c"/><circle cx="608.3" cy="484.8" r="0.7" fill="#a49c7c"/><circle cx="612.4" cy="480.2" r="0.7" fill="#a49c7c"/><circle cx="608.6" cy="484.5" r="0.7" fill="#a49c7c"/><circle cx="606.5" cy="481.7" r="0.6" fill="#a49c7c"/><ellipse cx="616.8" cy="490.5" rx="4.6" ry="6.6" fill="#eff1da" stroke="#3e3e1c" stroke-width="0.8"/><circle cx="617.9" cy="489.1" r="0.6" fill="#a49c7c"/><circle cx="616.5" cy="494.2" r="0.8" fill="#a49c7c"/><circle cx="618.1" cy="493.7" r="0.7" fill="#a49c7c"/><circle cx="616.9" cy="491.7" r="0.6" fill="#a49c7c"/><circle cx="618.3" cy="486.7" r="0.7" fill="#a49c7c"/><circle cx="615.0" cy="492.0" r="0.6" fill="#a49c7c"/><circle cx="618.3" cy="489.1" r="0.5" fill="#a49c7c"/><circle cx="614.3" cy="487.7" r="0.5" fill="#a49c7c"/><circle cx="617.9" cy="490.8" r="0.6" fill="#a49c7c"/><circle cx="615.7" cy="489.3" r="0.5" fill="#a49c7c"/><circle cx="614.6" cy="488.4" r="0.7" fill="#a49c7c"/><circle cx="616.7" cy="489.4" r="0.6" fill="#a49c7c"/><circle cx="618.4" cy="486.6" r="0.6" fill="#a49c7c"/><circle cx="618.3" cy="487.5" r="0.8" fill="#a49c7c"/><circle cx="617.2" cy="494.4" r="0.7" fill="#a49c7c"/><circle cx="615.8" cy="490.7" r="0.5" fill="#a49c7c"/><circle cx="617.3" cy="491.7" r="0.5" fill="#a49c7c"/><circle cx="616.0" cy="489.5" r="0.7" fill="#a49c7c"/><circle cx="616.5" cy="486.3" r="0.7" fill="#a49c7c"/><circle cx="616.1" cy="486.1" r="0.8" fill="#a49c7c"/><circle cx="614.5" cy="487.3" r="0.5" fill="#a49c7c"/><circle cx="617.5" cy="491.2" r="0.5" fill="#a49c7c"/><circle cx="615.2" cy="492.7" r="0.7" fill="#a49c7c"/><circle cx="616.8" cy="489.2" r="0.6" fill="#a49c7c"/><circle cx="614.9" cy="489.7" r="0.5" fill="#a49c7c"/><circle cx="615.2" cy="488.9" r="0.7" fill="#a49c7c"/><circle cx="613.6" cy="490.6" r="0.8" fill="#a49c7c"/><ellipse cx="603.0" cy="499.1" rx="4.4" ry="5.5" fill="#eff1da" stroke="#3e3e1c" stroke-width="0.8"/><circle cx="605.4" cy="500.6" r="0.7" fill="#a49c7c"/><circle cx="602.7" cy="500.4" r="0.6" fill="#a49c7c"/><circle cx="601.4" cy="501.7" r="0.8" fill="#a49c7c"/><circle cx="601.8" cy="500.5" r="0.6" fill="#a49c7c"/><circle cx="602.1" cy="495.8" r="0.7" fill="#a49c7c"/><circle cx="602.5" cy="501.3" r="0.7" fill="#a49c7c"/><circle cx="602.3" cy="499.0" r="0.6" fill="#a49c7c"/><circle cx="603.2" cy="502.3" r="0.5" fill="#a49c7c"/><circle cx="602.9" cy="500.3" r="0.6" fill="#a49c7c"/><circle cx="605.3" cy="498.8" r="0.6" fill="#a49c7c"/><circle cx="603.9" cy="498.6" r="0.6" fill="#a49c7c"/><circle cx="603.1" cy="498.8" r="0.7" fill="#a49c7c"/><circle cx="602.7" cy="499.5" r="0.5" fill="#a49c7c"/><circle cx="601.1" cy="499.7" r="0.6" fill="#a49c7c"/><circle cx="604.4" cy="499.7" r="0.8" fill="#a49c7c"/><circle cx="601.0" cy="500.0" r="0.5" fill="#a49c7c"/><circle cx="602.4" cy="502.8" r="0.7" fill="#a49c7c"/><circle cx="602.3" cy="499.1" r="0.6" fill="#a49c7c"/><circle cx="603.4" cy="496.6" r="0.7" fill="#a49c7c"/><circle cx="605.0" cy="497.3" r="0.7" fill="#a49c7c"/><circle cx="603.5" cy="499.2" r="0.7" fill="#a49c7c"/><circle cx="615.5" cy="466.8" r="2.1" fill="#d82a2a" stroke="#702020" stroke-width="0.4"/><circle cx="616.1" cy="476" r="2.1" fill="#2a8ad8" stroke="#20508a" stroke-width="0.4"/>
</g>
<path d="M630,468 C640,466 650,468 660,472 C670,476 678,482 687,493" stroke="#3c3c3c" stroke-width="4.4" fill="none" stroke-linecap="round"/>
<path d="M630,468 C640,466 650,468 660,472 C670,476 678,482 687,493" stroke="#eceaf0" stroke-width="2.8" fill="none" stroke-linecap="round"/>
<g stroke="#555" stroke-width="0.8" fill="none"><path d="M633,465.8 L633,470.2"/><path d="M649.5,466 L649,470.5"/><path d="M664,472 L662.5,476.5"/><path d="M676,479.5 L673.5,483.5"/></g>
<path d="M664,474.5 C668,476.5 671,478.5 673.5,481" stroke="#f2e27a" stroke-width="2.6" fill="none"/>
<path d="M681,486 L687,493" stroke="#f4e478" stroke-width="2.8" fill="none" stroke-linecap="round"/>

<!-- 07_cornea.svg -->
<path d="M189.3,537.5 C174,548 165,562 165,575 C165,590 175,603 188,613 L187.5,609 L186.8,606.7 C176,598 171.8,587 171.8,575 C171.8,562 178,551 187.4,544.3 L187,541 Z" fill="#f3f9fa" stroke="#7e9ca2" stroke-width="0.9"/>
<path d="M186,546 C178,553 173.5,563 173.5,575 C173.5,587 178,597 185.5,604" stroke="#c8e0ee" stroke-width="1" fill="none"/>

<!-- 08_liver.svg -->
<g>
<path d="M251,581.5 C265,577 285,576 300,578 C315,580 327,584 337,588 C343,586 350,585 356,585 C368,584.5 380,584 386,585.5 C391,587 392,595 391,603.4 C389,612 387,617 384.6,621.4 C380,630 376,637 371.7,642 C367,647 363,651 358.9,652.3 C353,654 348,655 343.4,654.9 C342,654.5 341,653.5 340,653 C335,662 320,670 305,676 C290,682 270,695 257,710 C252,715 244,717 238,713 C232,708 229,698 228.5,680 C228,660 227,640 228.5,620 C230,600 238,588 251,581.5 Z" fill="#8d4f5d" stroke="#6e3644" stroke-width="1"/>
<path d="M337,588 C343,586 350,585 356,585 C368,584.5 380,584 386,585.5 C391,587 392,595 391,603.4 C389,612 387,617 384.6,621.4 C380,630 376,637 371.7,642 C367,647 363,651 358.9,652.3 C353,654 348,655 343.4,654.9 C342,654.5 341,653.5 340,653 C344,640 343,620 340,600 C339,595 338,592 337,588 Z" fill="#935562"/>
<path d="M337,590 C343,610 344,635 340,652" stroke="#7a3f4e" stroke-width="1.6" fill="none"/>
<path d="M256,583 C244,592 236,608 234,630 C233,650 234,670 235,688 C231,672 230,650 230,628 C231,605 240,590 256,583 Z" fill="#a8707c"/>
<path d="M238,612 C242,598 250,588 262,583 C275,579 292,578 316,581 C295,582 275,584 262,588 C250,593 243,602 238,612 Z" fill="#c08a94"/>

<path d="M350,591 C360,589 375,589 385,590" stroke="#a86a78" stroke-width="1" fill="none"/>
<path d="M238,713 C246,712 252,708 258,702 C270,690 290,678 305,672 C320,666 332,660 341,653 C350,655 360,652 368,646" stroke="#7a3a4a" stroke-width="3" fill="none" stroke-linecap="round"/>
</g>

<!-- 09_cells.svg -->
<g>
<g><path d="M299.9,327.6 C298.9,332.2 294.0,337.5 289.5,339.7 C285.0,341.9 277.4,342.8 272.9,340.9 C268.4,339.0 263.9,333.1 262.7,328.4 C261.4,323.7 262.5,316.5 265.5,312.9 C268.4,309.2 275.5,306.6 280.5,306.5 C285.6,306.4 292.6,308.8 295.8,312.3 C299.0,315.8 301.0,323.0 299.9,327.6Z" fill="#52bfc3" stroke="#2f8c92" stroke-width="0.9"/><path d="M295.3,325.4 C294.4,329.3 290.3,333.7 286.6,335.6 C282.8,337.5 276.4,338.2 272.6,336.6 C268.8,335.0 265.0,330.0 264.0,326.1 C263.0,322.2 263.8,316.1 266.4,313.1 C268.9,310.0 274.8,307.8 279.0,307.7 C283.3,307.6 289.1,309.6 291.8,312.6 C294.5,315.5 296.2,321.6 295.3,325.4Z" fill="#a9e1e1"/><path d="M289.7,329.6 C288.3,332.4 284.1,334.6 281.0,335.2 C277.8,335.8 273.0,335.3 270.7,333.2 C268.5,331.2 267.1,326.1 267.4,322.9 C267.7,319.7 270.0,316.1 272.5,314.1 C275.0,312.1 279.5,310.1 282.4,310.9 C285.3,311.7 288.6,315.6 289.8,318.8 C291.1,321.9 291.2,326.9 289.7,329.6Z" fill="#b4529c" stroke="#7c3478" stroke-width="0.9"/><path d="M282.9,324.6 C282.1,325.9 279.8,327.0 278.1,327.3 C276.3,327.7 273.7,327.4 272.5,326.4 C271.2,325.3 270.4,322.8 270.6,321.2 C270.8,319.6 272.0,317.8 273.4,316.8 C274.8,315.8 277.3,314.8 278.9,315.2 C280.5,315.6 282.3,317.6 283.0,319.1 C283.6,320.7 283.7,323.2 282.9,324.6Z" fill="#c46aac" opacity="0.4"/><circle cx="270.0" cy="314.8" r="0.9" fill="#fff"/><circle cx="272.4" cy="312.5" r="0.6" fill="#fff"/></g>
<g><path d="M360.0,331.8 C357.5,335.9 351.0,339.7 345.9,340.6 C340.8,341.5 333.0,340.1 329.2,337.0 C325.4,333.9 322.9,326.9 323.2,322.0 C323.5,317.1 326.9,310.4 330.9,307.7 C335.0,305.0 342.8,304.5 347.8,305.8 C352.8,307.1 358.8,311.4 360.9,315.7 C362.9,320.1 362.5,327.6 360.0,331.8Z" fill="#52bfc3" stroke="#2f8c92" stroke-width="0.9"/><path d="M355.6,328.8 C353.5,332.2 348.1,335.4 343.8,336.1 C339.5,336.9 332.9,335.8 329.8,333.2 C326.6,330.6 324.5,324.6 324.7,320.5 C325.0,316.4 327.8,310.8 331.2,308.5 C334.6,306.3 341.2,305.8 345.3,306.9 C349.5,308.1 354.6,311.6 356.3,315.3 C358.0,318.9 357.7,325.3 355.6,328.8Z" fill="#a9e1e1"/><path d="M349.4,331.1 C347.1,333.3 342.3,334.2 339.0,333.8 C335.7,333.4 331.0,331.4 329.4,328.8 C327.7,326.1 327.9,320.8 329.1,317.8 C330.4,314.9 333.7,312.1 336.8,311.0 C339.9,309.8 345.0,309.4 347.6,311.0 C350.3,312.6 352.4,317.4 352.7,320.8 C353.0,324.2 351.7,329.0 349.4,331.1Z" fill="#b4529c" stroke="#7c3478" stroke-width="0.9"/><path d="M343.4,324.6 C342.1,325.7 339.5,326.1 337.7,325.9 C335.8,325.7 333.3,324.7 332.4,323.4 C331.5,322.0 331.6,319.4 332.2,317.9 C332.9,316.4 334.8,315.1 336.5,314.5 C338.2,313.9 341.0,313.7 342.4,314.5 C343.9,315.3 345.0,317.7 345.2,319.4 C345.4,321.1 344.6,323.5 343.4,324.6Z" fill="#c46aac" opacity="0.4"/><circle cx="331.1" cy="313.2" r="0.9" fill="#fff"/><circle cx="333.6" cy="311.0" r="0.6" fill="#fff"/></g>
<g><path d="M322.6,378.2 C319.1,381.5 312.2,383.4 307.3,382.8 C302.5,382.2 295.9,378.8 293.4,374.8 C290.9,370.7 290.8,363.2 292.5,358.6 C294.2,354.0 299.2,348.5 303.7,347.1 C308.1,345.6 315.2,347.3 319.3,349.9 C323.4,352.6 327.6,358.4 328.1,363.1 C328.7,367.8 326.0,375.0 322.6,378.2Z" fill="#52bfc3" stroke="#2f8c92" stroke-width="0.9"/><path d="M318.9,374.5 C316.0,377.3 310.2,378.8 306.1,378.3 C302.0,377.8 296.5,375.0 294.4,371.6 C292.3,368.2 292.2,361.9 293.6,358.0 C295.1,354.2 299.2,349.5 303.0,348.3 C306.8,347.1 312.7,348.5 316.2,350.7 C319.6,353.0 323.1,357.8 323.5,361.8 C324.0,365.7 321.8,371.7 318.9,374.5Z" fill="#a9e1e1"/><path d="M314.4,377.8 C311.6,379.3 306.9,378.7 303.8,377.2 C300.8,375.7 297.0,372.3 296.2,369.1 C295.4,365.9 297.1,360.5 299.1,357.9 C301.2,355.3 305.2,353.5 308.4,353.3 C311.7,353.1 316.7,354.3 318.7,356.8 C320.7,359.3 321.3,364.8 320.6,368.3 C319.9,371.8 317.2,376.3 314.4,377.8Z" fill="#b4529c" stroke="#7c3478" stroke-width="0.9"/><path d="M309.9,369.7 C308.3,370.5 305.7,370.2 304.0,369.5 C302.3,368.7 300.3,367.0 299.8,365.4 C299.4,363.8 300.3,361.1 301.4,359.8 C302.6,358.5 304.8,357.6 306.6,357.5 C308.4,357.4 311.1,358.0 312.2,359.2 C313.3,360.5 313.6,363.3 313.2,365.0 C312.9,366.8 311.4,369.0 309.9,369.7Z" fill="#c46aac" opacity="0.4"/><circle cx="299.4" cy="356.4" r="0.9" fill="#fff"/><circle cx="301.9" cy="354.0" r="0.6" fill="#fff"/></g>
</g>

<!-- 10_heart.svg -->
<g>
<path d="M435,612 L435.5,636 C440,638.5 446,638.5 449,636.5 L449,612 Z" fill="#8fc5dc" stroke="#5a8ea8" stroke-width="0.6"/>
<path d="M427.1,536 L427.1,566 L444.7,566 L444.7,536 Z" fill="#8fc5dc" stroke="#5a8ea8" stroke-width="0.6"/>
<ellipse cx="435.9" cy="536" rx="8.8" ry="1.8" fill="#3f8fb0" stroke="#5a8ea8" stroke-width="0.5"/>
<path d="M445.1,557 L445.5,542 C446,537 446.5,533 449.4,528.3 C451,524 453,522 453.7,519.7 C453.5,517 452.5,515 452.9,512.9 C454,511 457,510 459.7,510.3 C461.5,510.8 462.5,512.5 463.1,514.6 C464,516 465.5,517.2 466.6,517.1 C468,516.5 469,515 470,513.7 C471,511 472,508 474.3,506.9 C476,506.3 477.5,507.5 477.7,509.4 C478,512 478,514.5 478.6,516.3 C479.5,517 481,515 482.9,512 C483.5,511 484.5,510.5 485.4,510.7 C487,510.8 488.5,512 488.8,513.7 C489,516 488,519 487.6,521.4 C488.5,523.5 490.5,525 491.4,527.4 C492.3,530 492.5,532 492.3,534.3 C492.5,536 493,537 493.3,538 L486,556 L458,566 Z" fill="#f7553a" stroke="#b03a26" stroke-width="0.7"/>
<path d="M453,560 C453,550 456,541 460,536 C464,531 469,528 475,527.6 C481,527.5 486,530 490,534 L491,538 C487,534.5 482,532.5 476,532.3 C470,532.5 466,535.5 463,540 C460,545 459.5,552 459.5,560 Z" fill="#ee2a1a"/>
<path d="M423.1,580.4 C423,575 423.5,571 424.7,569.4 C427,565 430,562.5 432.6,561.6 C438,559 444,558 450,558 L462,575 L451.4,580.4 C446,585 442,590 440.4,591.4 C437,597 435.7,603 435.7,611.9 C436,615 436.5,618 437.3,619.7 L435.7,619.7 C433,618 431,617 432.6,616.6 C429,613 427,610 426.3,607.1 C424,600 422.5,595 422.4,591.4 Z" fill="#c59cc2" stroke="#9a7098" stroke-width="0.6"/>
<path d="M426,574 C428,584 428,594 431,604 M433,568 C437,574 438,580 439,586" stroke="#dcbcda" stroke-width="2.2" fill="none" stroke-linecap="round"/>
<path d="M442.5,557.9 C445,556 447,555.3 449.6,555.3 C452,555 455,555.5 456.6,556.6 C458,559 458.6,561 458.6,564.3 C458.6,567 458,570 457.3,572 C456,574.5 454,576 452.1,577.1 C449,578 446,577 444,574 C442,570 441.5,563 442.5,557.9 Z" fill="#cba2c8" stroke="#9a7098" stroke-width="0.6"/>
<path d="M451,559 C454,561 455,566 454,571" stroke="#ead0e8" stroke-width="2.2" fill="none" stroke-linecap="round"/>
<path d="M459.2,572 C458.5,567 458.4,562 458.6,557.9 C459,552 459.8,547 461.1,543.7 C462.5,540 464,537.5 466.3,536 C468.5,534.5 471,533.5 474,533.2 C477.5,533 481,533.3 484.3,534.1 C488,535 491.5,536.5 494.6,538.6 C497,540 499,542 500.4,544.4 C501.5,546.5 501.5,549 501,551.4 C500.5,553.5 499.5,554.8 498.4,555.3 C495.5,555 492.5,554 489.4,553.4 C487,553.2 485,553.5 483,554 L480.4,563 C478.5,567 476.5,570 474,572 C471.5,573.8 469,574.6 466.3,574.6 C463.5,574.5 461.5,573.5 459.9,572 Z" fill="#8ec6dc" stroke="#5a90a8" stroke-width="0.6"/>
<path d="M458.8,563 C461,568 465,570 470,569 C475,568 478,565 480.4,559 L480.4,563 C478.5,567 476.5,570 474,572 C471.5,573.8 469,574.6 466.3,574.6 C463.5,574.5 461.5,573.5 459.9,572 L459.2,572 Z" fill="#4aa6d0"/>
<path d="M451.4,580.4 C455,578 458,576.5 459.3,575.7 C464,575 468,574.5 471.9,574.1 C477,572.5 482,570.5 486,568.6 C495,570 504,573 508,577.3 C513,585 515.5,590 517.4,596.1 C520.5,606 522.5,614 523.7,622.9 C524.3,627 524.6,631 524.5,635.4 C521,638.5 518,640 514.3,640.1 C507,641.5 500,643 495.4,643.3 C486,641 476,637 467.1,633.9 C458,631 451,628.5 445.1,626 C441,621 439,616 437.3,611.9 C436,607 435.5,603 435.7,599.3 C437,595 439.5,592 442,589.9 C445,586 448,583 451.4,580.4 Z" fill="#f6dce2" stroke="#a78895" stroke-width="0.7"/>
<path d="M480.4,548.9 C482.5,547.8 484.5,547.3 486.9,547.6 C490,548.5 493,552 494.6,555.3 C496,558.5 497.2,561 497.1,563 C497,566 496.8,568 495.9,569.4 C493,570 490.5,570 488.1,569.4 C485,568 483,566 481.7,564.3 C480.5,561 479.8,558 479.8,555.3 C479.8,552.5 480,550 480.4,548.9 Z" fill="#c9a0c6" stroke="#9a7098" stroke-width="0.6"/>
<path d="M485,552 C489,554 492,559 493,565" stroke="#e4c6e2" stroke-width="2.2" fill="none" stroke-linecap="round"/>
<g stroke="#c4442e" stroke-width="1.05" fill="none" stroke-linecap="round" stroke-linejoin="round">
<path d="M456.1,577.3 C452,580 450,582 449.9,583.6 C448,586 447.5,588 447.5,588.3 C445,592 443,595 442,597.7 C440.5,600 439.6,602 439.6,602.4 C440,606 441,609 442,611.9 C443,615 444,618 445.1,619.7 C449,622 452,623.5 456.1,624.4 C461,625.5 466,626 470.3,626 C474,625 478,624 481.3,622.9 C483,621 485,619 486,616.6"/>
<path d="M447.5,588.3 C452,589 456,589 459.3,589.1 C462,588.5 465,588 467.1,587.5 C469,587 470.5,587 471.9,586.7"/>
<path d="M459.3,589.1 C461.5,590.5 464,592 465.6,593"/>
<path d="M440.5,604 C444,605.5 448,606.5 451.4,607.1 C454,607 457,606.5 459.3,606.4 C462,607.5 464,609 465.6,610.3 C466,612 465.8,613.5 465.6,615"/>
<path d="M486,569.4 C489,571 492,573.5 493.9,575.7 C495.5,578 496.5,581 497,583.6 C496,587 495,591 493.9,594.6 C493,598 492.5,601 492.3,604 C493,607 493.5,609.5 493.9,611.9 C493,614.5 492,617 490.7,619.7 C489.5,622 488.5,625 487.6,627.6"/>
<path d="M497,583.6 C500,585 502.5,586.5 504.9,588.3 C507,590 508.5,592.5 509.6,594.6"/>
<path d="M493,600 C497,602 501,604 504.9,605.6 C508,606.5 510.5,607 512.7,607.1"/>
<path d="M493.5,608 C497,612 502,616 506.4,619.7 C509,624 512,629 514.3,633.9"/>
</g>
</g>

<!-- 11_trachea.svg -->
<g>
<g fill="none" stroke-linecap="round" stroke-linejoin="round"><path d="M59.0,471.0 C57.5,472.2 52.3,475.9 50.3,478.3 C48.3,480.7 48.0,482.4 46.8,485.3 C45.6,488.2 44.3,492.2 43.3,495.6 C42.3,499.1 41.3,503.1 40.7,506.0 C40.1,508.9 40.5,510.1 39.9,513.0 C39.3,515.9 37.7,521.7 37.3,523.4" stroke="#978e88" stroke-width="5.4"/><path d="M37.3,523.4 C36.4,524.8 34.0,529.1 32.1,532.0 C30.2,534.9 28.2,537.5 26.0,540.7 C23.8,543.9 20.2,549.4 19.1,551.1" stroke="#978e88" stroke-width="3.8"/><path d="M37.3,523.4 C37.7,524.8 39.0,528.8 39.9,532.0 C40.8,535.2 41.9,539.5 42.5,542.4 C43.1,545.3 43.2,548.2 43.3,549.4" stroke="#978e88" stroke-width="3.6"/><path d="M46.8,481.8 C44.8,480.9 38.8,477.9 34.7,476.6 C30.7,475.3 26.4,474.0 22.5,474.0 C18.6,474.0 13.2,476.2 11.3,476.6" stroke="#978e88" stroke-width="3.4"/><path d="M22.5,474.0 L17.3,468.0" stroke="#978e88" stroke-width="2.6"/><path d="M26.0,475.5 L20.8,481.0" stroke="#978e88" stroke-width="2.6"/><path d="M37.0,477.5 C37.0,476.6 37.1,475.3 37.3,472.3 C37.5,469.3 38.7,463.8 38.1,459.3 C37.5,454.8 34.5,447.7 33.8,445.4" stroke="#978e88" stroke-width="3.0"/><path d="M38.5,461.0 L45.9,445.4" stroke="#978e88" stroke-width="2.8"/><path d="M36.0,472.0 C35.5,471.6 35.0,470.9 32.9,469.7 C30.8,468.4 25.0,465.4 23.4,464.5" stroke="#978e88" stroke-width="2.7"/><path d="M44.2,494.8 L53.7,500.8" stroke="#978e88" stroke-width="2.7"/><path d="M43.3,494.8 L33.8,494.8" stroke="#978e88" stroke-width="2.7"/><path d="M44.5,489.0 L38.1,485.3" stroke="#978e88" stroke-width="2.5"/><path d="M40.7,504.3 C38.2,504.3 29.6,504.3 26.0,504.3 C22.4,504.3 22.0,505.5 19.1,504.3 C16.2,503.1 10.4,498.5 8.7,497.4" stroke="#978e88" stroke-width="3.2"/><path d="M19.1,504.3 L7.8,507.8" stroke="#978e88" stroke-width="2.6"/><path d="M27.0,504.3 C26.2,505.4 23.7,509.4 22.0,511.0 C20.3,512.6 17.8,513.5 17.0,514.0" stroke="#978e88" stroke-width="2.5"/><path d="M41.6,509.5 C42.5,510.4 45.3,513.6 46.8,514.7 C48.2,515.9 49.7,514.7 50.3,516.4 C50.9,518.1 50.3,523.6 50.3,525.1" stroke="#978e88" stroke-width="2.7"/><path d="M46.8,514.7 L52.0,514.7" stroke="#978e88" stroke-width="2.4"/><path d="M36.4,520.0 C34.1,520.4 26.6,522.4 22.5,522.5 C18.4,522.6 13.8,521.1 12.1,520.8" stroke="#978e88" stroke-width="3.0"/><path d="M22.5,522.5 L13.9,530.3" stroke="#978e88" stroke-width="2.5"/><path d="M32.9,528.6 C30.8,529.5 23.2,532.6 20.0,534.0 C16.8,535.4 15.7,535.8 13.9,537.2 C12.2,538.6 10.2,541.5 9.5,542.4" stroke="#978e88" stroke-width="2.8"/><path d="M27.7,539.0 L18.2,546.8" stroke="#978e88" stroke-width="2.5"/><path d="M41.6,532.0 C42.3,532.7 44.5,534.8 46.0,536.0 C47.5,537.2 49.4,537.9 50.3,539.0 C51.1,540.1 51.0,541.8 51.1,542.4" stroke="#978e88" stroke-width="2.6"/><path d="M43.0,542.0 L45.0,550.2" stroke="#978e88" stroke-width="2.5"/><path d="M29.0,536.5 C29.2,538.1 29.6,543.0 30.0,546.0 C30.4,549.0 31.0,553.2 31.2,554.6" stroke="#978e88" stroke-width="2.5"/><path d="M71.0,470.0 C72.5,471.0 76.7,474.0 80.0,476.0 C83.3,478.0 88.5,478.8 91.0,481.8 C93.5,484.8 93.8,489.6 95.3,493.9 C96.8,498.2 98.1,503.8 99.7,507.8 C101.3,511.9 104.0,516.5 104.9,518.2" stroke="#978e88" stroke-width="5.4"/><path d="M104.9,518.2 C104.6,520.5 104.0,527.1 103.1,532.0 C102.2,536.9 100.3,545.0 99.7,547.6" stroke="#978e88" stroke-width="3.8"/><path d="M104.9,518.2 C105.8,520.5 108.0,527.1 110.0,532.0 C112.0,536.9 115.8,545.0 117.0,547.6" stroke="#978e88" stroke-width="3.8"/><path d="M91.0,481.8 C92.2,480.4 97.3,477.2 97.9,473.1 C98.5,469.1 95.7,462.1 94.5,457.5 C93.3,452.9 91.6,447.4 91.0,445.4" stroke="#978e88" stroke-width="3.4"/><path d="M96.8,469.0 C97.3,467.8 98.1,465.1 99.7,462.0 C101.3,458.9 105.7,453.4 106.6,450.6 C107.5,447.8 105.2,446.3 104.9,445.4" stroke="#978e88" stroke-width="2.8"/><path d="M98.0,476.0 C99.0,475.0 101.7,472.5 104.0,470.0 C106.3,467.5 110.6,463.4 111.8,461.0 C113.0,458.6 111.1,456.7 110.9,455.8" stroke="#978e88" stroke-width="2.7"/><path d="M97.0,478.0 C98.8,477.7 104.1,476.5 108.0,476.0 C111.9,475.5 117.8,475.7 120.4,474.9 C123.1,474.1 123.3,472.0 123.9,471.4" stroke="#978e88" stroke-width="3.0"/><path d="M113.0,476.0 L125.6,480.0" stroke="#978e88" stroke-width="2.6"/><path d="M94.5,485.3 C96.5,486.1 103.4,489.2 106.6,490.4 C109.8,491.5 110.2,491.3 113.5,492.2 C116.8,493.1 124.3,495.0 126.5,495.6" stroke="#978e88" stroke-width="3.1"/><path d="M106.6,490.4 C107.8,492.4 112.9,499.7 113.5,502.6 C114.1,505.5 110.6,506.9 110.0,507.8" stroke="#978e88" stroke-width="2.6"/><path d="M115.0,493.0 L122.2,504.3" stroke="#978e88" stroke-width="2.6"/><path d="M96.2,493.9 C95.2,494.4 92.0,496.0 90.0,497.0 C88.0,498.0 85.0,499.5 84.0,500.0" stroke="#978e88" stroke-width="2.8"/><path d="M103.1,511.2 C104.2,511.8 107.7,513.5 110.0,515.0 C112.3,516.5 115.8,519.2 117.0,520.0" stroke="#978e88" stroke-width="2.7"/><path d="M110.0,515.0 L118.7,516.4" stroke="#978e88" stroke-width="2.4"/><path d="M103.5,530.0 C102.6,530.7 99.5,533.1 98.0,534.0 C96.5,534.9 95.7,534.1 94.5,535.5 C93.3,536.9 91.6,541.2 91.0,542.4" stroke="#978e88" stroke-width="2.7"/><path d="M97.0,535.0 C97.2,535.7 97.5,536.9 97.9,539.0 C98.4,541.1 99.4,546.2 99.7,547.6" stroke="#978e88" stroke-width="2.5"/><path d="M110.0,532.0 C111.0,532.8 114.0,535.3 116.0,537.0 C118.0,538.7 121.2,541.5 122.2,542.4" stroke="#978e88" stroke-width="2.7"/><path d="M115.3,539.0 L117.0,552.8" stroke="#978e88" stroke-width="2.5"/><path d="M19.4,550.7 L16.7,552.1" stroke="#978e88" stroke-width="2.2"/><path d="M19.4,550.7 L19.1,553.7" stroke="#978e88" stroke-width="2.2"/><path d="M43.2,548.9 L42.1,551.7" stroke="#978e88" stroke-width="2.2"/><path d="M43.2,548.9 L45.0,551.4" stroke="#978e88" stroke-width="2.2"/><path d="M11.8,476.5 L8.9,475.7" stroke="#978e88" stroke-width="2.2"/><path d="M11.8,476.5 L9.5,478.5" stroke="#978e88" stroke-width="2.2"/><path d="M17.6,468.4 L17.0,465.4" stroke="#978e88" stroke-width="2.2"/><path d="M17.6,468.4 L14.8,467.3" stroke="#978e88" stroke-width="2.2"/><path d="M21.1,480.6 L18.3,481.6" stroke="#978e88" stroke-width="2.2"/><path d="M21.1,480.6 L20.4,483.6" stroke="#978e88" stroke-width="2.2"/><path d="M33.9,445.9 L34.6,442.9" stroke="#978e88" stroke-width="2.2"/><path d="M33.9,445.9 L31.8,443.8" stroke="#978e88" stroke-width="2.2"/><path d="M45.7,445.9 L48.1,444.1" stroke="#978e88" stroke-width="2.2"/><path d="M45.7,445.9 L45.5,442.8" stroke="#978e88" stroke-width="2.2"/><path d="M23.8,464.7 L22.2,462.2" stroke="#978e88" stroke-width="2.2"/><path d="M23.8,464.7 L20.8,464.8" stroke="#978e88" stroke-width="2.2"/><path d="M53.3,500.5 L54.7,503.2" stroke="#978e88" stroke-width="2.2"/><path d="M53.3,500.5 L56.3,500.7" stroke="#978e88" stroke-width="2.2"/><path d="M34.3,494.8 L31.7,493.3" stroke="#978e88" stroke-width="2.2"/><path d="M34.3,494.8 L31.7,496.3" stroke="#978e88" stroke-width="2.2"/><path d="M38.5,485.6 L37.0,483.0" stroke="#978e88" stroke-width="2.2"/><path d="M38.5,485.6 L35.5,485.5" stroke="#978e88" stroke-width="2.2"/><path d="M9.1,497.7 L7.7,495.0" stroke="#978e88" stroke-width="2.2"/><path d="M9.1,497.7 L6.1,497.4" stroke="#978e88" stroke-width="2.2"/><path d="M8.3,507.7 L5.3,507.0" stroke="#978e88" stroke-width="2.2"/><path d="M8.3,507.7 L6.2,509.8" stroke="#978e88" stroke-width="2.2"/><path d="M17.4,513.7 L14.4,513.8" stroke="#978e88" stroke-width="2.2"/><path d="M17.4,513.7 L15.9,516.4" stroke="#978e88" stroke-width="2.2"/><path d="M50.3,524.6 L48.8,527.2" stroke="#978e88" stroke-width="2.2"/><path d="M50.3,524.6 L51.8,527.2" stroke="#978e88" stroke-width="2.2"/><path d="M51.5,514.7 L54.1,516.2" stroke="#978e88" stroke-width="2.2"/><path d="M51.5,514.7 L54.1,513.2" stroke="#978e88" stroke-width="2.2"/><path d="M12.6,520.9 L10.2,519.0" stroke="#978e88" stroke-width="2.2"/><path d="M12.6,520.9 L9.7,521.9" stroke="#978e88" stroke-width="2.2"/><path d="M14.3,530.0 L11.3,530.7" stroke="#978e88" stroke-width="2.2"/><path d="M14.3,530.0 L13.3,532.8" stroke="#978e88" stroke-width="2.2"/><path d="M9.8,542.0 L7.0,543.1" stroke="#978e88" stroke-width="2.2"/><path d="M9.8,542.0 L9.2,545.0" stroke="#978e88" stroke-width="2.2"/><path d="M18.6,546.5 L15.6,547.0" stroke="#978e88" stroke-width="2.2"/><path d="M18.6,546.5 L17.5,549.3" stroke="#978e88" stroke-width="2.2"/><path d="M51.0,541.9 L50.2,544.8" stroke="#978e88" stroke-width="2.2"/><path d="M51.0,541.9 L53.0,544.2" stroke="#978e88" stroke-width="2.2"/><path d="M44.9,549.7 L44.1,552.6" stroke="#978e88" stroke-width="2.2"/><path d="M44.9,549.7 L46.9,551.9" stroke="#978e88" stroke-width="2.2"/><path d="M31.1,554.1 L30.0,556.9" stroke="#978e88" stroke-width="2.2"/><path d="M31.1,554.1 L33.0,556.5" stroke="#978e88" stroke-width="2.2"/><path d="M99.8,547.1 L97.8,549.4" stroke="#978e88" stroke-width="2.2"/><path d="M99.8,547.1 L100.7,550.0" stroke="#978e88" stroke-width="2.2"/><path d="M116.8,547.1 L116.5,550.2" stroke="#978e88" stroke-width="2.2"/><path d="M116.8,547.1 L119.2,549.0" stroke="#978e88" stroke-width="2.2"/><path d="M91.1,445.9 L91.8,442.9" stroke="#978e88" stroke-width="2.2"/><path d="M91.1,445.9 L89.0,443.7" stroke="#978e88" stroke-width="2.2"/><path d="M105.1,445.9 L105.6,442.9" stroke="#978e88" stroke-width="2.2"/><path d="M105.1,445.9 L102.8,443.8" stroke="#978e88" stroke-width="2.2"/><path d="M111.0,456.3 L112.0,453.4" stroke="#978e88" stroke-width="2.2"/><path d="M111.0,456.3 L109.1,453.9" stroke="#978e88" stroke-width="2.2"/><path d="M123.5,471.8 L126.5,470.9" stroke="#978e88" stroke-width="2.2"/><path d="M123.5,471.8 L124.4,468.8" stroke="#978e88" stroke-width="2.2"/><path d="M125.1,479.8 L127.2,482.0" stroke="#978e88" stroke-width="2.2"/><path d="M125.1,479.8 L128.1,479.3" stroke="#978e88" stroke-width="2.2"/><path d="M126.0,495.5 L128.2,497.6" stroke="#978e88" stroke-width="2.2"/><path d="M126.0,495.5 L128.9,494.7" stroke="#978e88" stroke-width="2.2"/><path d="M110.3,507.4 L107.6,508.8" stroke="#978e88" stroke-width="2.2"/><path d="M110.3,507.4 L110.0,510.4" stroke="#978e88" stroke-width="2.2"/><path d="M121.9,503.9 L122.1,506.9" stroke="#978e88" stroke-width="2.2"/><path d="M121.9,503.9 L124.6,505.3" stroke="#978e88" stroke-width="2.2"/><path d="M84.4,499.8 L81.4,499.6" stroke="#978e88" stroke-width="2.2"/><path d="M84.4,499.8 L82.7,502.3" stroke="#978e88" stroke-width="2.2"/><path d="M116.6,519.7 L117.9,522.4" stroke="#978e88" stroke-width="2.2"/><path d="M116.6,519.7 L119.6,520.1" stroke="#978e88" stroke-width="2.2"/><path d="M118.2,516.3 L120.6,518.2" stroke="#978e88" stroke-width="2.2"/><path d="M118.2,516.3 L121.1,515.3" stroke="#978e88" stroke-width="2.2"/><path d="M91.2,542.0 L88.7,543.6" stroke="#978e88" stroke-width="2.2"/><path d="M91.2,542.0 L91.3,545.0" stroke="#978e88" stroke-width="2.2"/><path d="M99.6,547.1 L98.7,550.0" stroke="#978e88" stroke-width="2.2"/><path d="M99.6,547.1 L101.6,549.4" stroke="#978e88" stroke-width="2.2"/><path d="M121.8,542.1 L122.9,544.9" stroke="#978e88" stroke-width="2.2"/><path d="M121.8,542.1 L124.8,542.7" stroke="#978e88" stroke-width="2.2"/><path d="M116.9,552.3 L115.8,555.1" stroke="#978e88" stroke-width="2.2"/><path d="M116.9,552.3 L118.7,554.8" stroke="#978e88" stroke-width="2.2"/><path d="M59.0,471.0 C57.5,472.2 52.3,475.9 50.3,478.3 C48.3,480.7 48.0,482.4 46.8,485.3 C45.6,488.2 44.3,492.2 43.3,495.6 C42.3,499.1 41.3,503.1 40.7,506.0 C40.1,508.9 40.5,510.1 39.9,513.0 C39.3,515.9 37.7,521.7 37.3,523.4" stroke="#f7ddd2" stroke-width="4.2"/><path d="M37.3,523.4 C36.4,524.8 34.0,529.1 32.1,532.0 C30.2,534.9 28.2,537.5 26.0,540.7 C23.8,543.9 20.2,549.4 19.1,551.1" stroke="#f7ddd2" stroke-width="2.6"/><path d="M37.3,523.4 C37.7,524.8 39.0,528.8 39.9,532.0 C40.8,535.2 41.9,539.5 42.5,542.4 C43.1,545.3 43.2,548.2 43.3,549.4" stroke="#f7ddd2" stroke-width="2.4"/><path d="M46.8,481.8 C44.8,480.9 38.8,477.9 34.7,476.6 C30.7,475.3 26.4,474.0 22.5,474.0 C18.6,474.0 13.2,476.2 11.3,476.6" stroke="#f7ddd2" stroke-width="2.2"/><path d="M22.5,474.0 L17.3,468.0" stroke="#f7ddd2" stroke-width="1.4"/><path d="M26.0,475.5 L20.8,481.0" stroke="#f7ddd2" stroke-width="1.4"/><path d="M37.0,477.5 C37.0,476.6 37.1,475.3 37.3,472.3 C37.5,469.3 38.7,463.8 38.1,459.3 C37.5,454.8 34.5,447.7 33.8,445.4" stroke="#f7ddd2" stroke-width="1.8"/><path d="M38.5,461.0 L45.9,445.4" stroke="#f7ddd2" stroke-width="1.6"/><path d="M36.0,472.0 C35.5,471.6 35.0,470.9 32.9,469.7 C30.8,468.4 25.0,465.4 23.4,464.5" stroke="#f7ddd2" stroke-width="1.5"/><path d="M44.2,494.8 L53.7,500.8" stroke="#f7ddd2" stroke-width="1.5"/><path d="M43.3,494.8 L33.8,494.8" stroke="#f7ddd2" stroke-width="1.5"/><path d="M44.5,489.0 L38.1,485.3" stroke="#f7ddd2" stroke-width="1.3"/><path d="M40.7,504.3 C38.2,504.3 29.6,504.3 26.0,504.3 C22.4,504.3 22.0,505.5 19.1,504.3 C16.2,503.1 10.4,498.5 8.7,497.4" stroke="#f7ddd2" stroke-width="2.0"/><path d="M19.1,504.3 L7.8,507.8" stroke="#f7ddd2" stroke-width="1.4"/><path d="M27.0,504.3 C26.2,505.4 23.7,509.4 22.0,511.0 C20.3,512.6 17.8,513.5 17.0,514.0" stroke="#f7ddd2" stroke-width="1.3"/><path d="M41.6,509.5 C42.5,510.4 45.3,513.6 46.8,514.7 C48.2,515.9 49.7,514.7 50.3,516.4 C50.9,518.1 50.3,523.6 50.3,525.1" stroke="#f7ddd2" stroke-width="1.5"/><path d="M46.8,514.7 L52.0,514.7" stroke="#f7ddd2" stroke-width="1.2"/><path d="M36.4,520.0 C34.1,520.4 26.6,522.4 22.5,522.5 C18.4,522.6 13.8,521.1 12.1,520.8" stroke="#f7ddd2" stroke-width="1.8"/><path d="M22.5,522.5 L13.9,530.3" stroke="#f7ddd2" stroke-width="1.3"/><path d="M32.9,528.6 C30.8,529.5 23.2,532.6 20.0,534.0 C16.8,535.4 15.7,535.8 13.9,537.2 C12.2,538.6 10.2,541.5 9.5,542.4" stroke="#f7ddd2" stroke-width="1.6"/><path d="M27.7,539.0 L18.2,546.8" stroke="#f7ddd2" stroke-width="1.3"/><path d="M41.6,532.0 C42.3,532.7 44.5,534.8 46.0,536.0 C47.5,537.2 49.4,537.9 50.3,539.0 C51.1,540.1 51.0,541.8 51.1,542.4" stroke="#f7ddd2" stroke-width="1.4"/><path d="M43.0,542.0 L45.0,550.2" stroke="#f7ddd2" stroke-width="1.3"/><path d="M29.0,536.5 C29.2,538.1 29.6,543.0 30.0,546.0 C30.4,549.0 31.0,553.2 31.2,554.6" stroke="#f7ddd2" stroke-width="1.3"/><path d="M71.0,470.0 C72.5,471.0 76.7,474.0 80.0,476.0 C83.3,478.0 88.5,478.8 91.0,481.8 C93.5,484.8 93.8,489.6 95.3,493.9 C96.8,498.2 98.1,503.8 99.7,507.8 C101.3,511.9 104.0,516.5 104.9,518.2" stroke="#f7ddd2" stroke-width="4.2"/><path d="M104.9,518.2 C104.6,520.5 104.0,527.1 103.1,532.0 C102.2,536.9 100.3,545.0 99.7,547.6" stroke="#f7ddd2" stroke-width="2.6"/><path d="M104.9,518.2 C105.8,520.5 108.0,527.1 110.0,532.0 C112.0,536.9 115.8,545.0 117.0,547.6" stroke="#f7ddd2" stroke-width="2.6"/><path d="M91.0,481.8 C92.2,480.4 97.3,477.2 97.9,473.1 C98.5,469.1 95.7,462.1 94.5,457.5 C93.3,452.9 91.6,447.4 91.0,445.4" stroke="#f7ddd2" stroke-width="2.2"/><path d="M96.8,469.0 C97.3,467.8 98.1,465.1 99.7,462.0 C101.3,458.9 105.7,453.4 106.6,450.6 C107.5,447.8 105.2,446.3 104.9,445.4" stroke="#f7ddd2" stroke-width="1.6"/><path d="M98.0,476.0 C99.0,475.0 101.7,472.5 104.0,470.0 C106.3,467.5 110.6,463.4 111.8,461.0 C113.0,458.6 111.1,456.7 110.9,455.8" stroke="#f7ddd2" stroke-width="1.5"/><path d="M97.0,478.0 C98.8,477.7 104.1,476.5 108.0,476.0 C111.9,475.5 117.8,475.7 120.4,474.9 C123.1,474.1 123.3,472.0 123.9,471.4" stroke="#f7ddd2" stroke-width="1.8"/><path d="M113.0,476.0 L125.6,480.0" stroke="#f7ddd2" stroke-width="1.4"/><path d="M94.5,485.3 C96.5,486.1 103.4,489.2 106.6,490.4 C109.8,491.5 110.2,491.3 113.5,492.2 C116.8,493.1 124.3,495.0 126.5,495.6" stroke="#f7ddd2" stroke-width="1.9"/><path d="M106.6,490.4 C107.8,492.4 112.9,499.7 113.5,502.6 C114.1,505.5 110.6,506.9 110.0,507.8" stroke="#f7ddd2" stroke-width="1.4"/><path d="M115.0,493.0 L122.2,504.3" stroke="#f7ddd2" stroke-width="1.4"/><path d="M96.2,493.9 C95.2,494.4 92.0,496.0 90.0,497.0 C88.0,498.0 85.0,499.5 84.0,500.0" stroke="#f7ddd2" stroke-width="1.6"/><path d="M103.1,511.2 C104.2,511.8 107.7,513.5 110.0,515.0 C112.3,516.5 115.8,519.2 117.0,520.0" stroke="#f7ddd2" stroke-width="1.5"/><path d="M110.0,515.0 L118.7,516.4" stroke="#f7ddd2" stroke-width="1.2"/><path d="M103.5,530.0 C102.6,530.7 99.5,533.1 98.0,534.0 C96.5,534.9 95.7,534.1 94.5,535.5 C93.3,536.9 91.6,541.2 91.0,542.4" stroke="#f7ddd2" stroke-width="1.5"/><path d="M97.0,535.0 C97.2,535.7 97.5,536.9 97.9,539.0 C98.4,541.1 99.4,546.2 99.7,547.6" stroke="#f7ddd2" stroke-width="1.3"/><path d="M110.0,532.0 C111.0,532.8 114.0,535.3 116.0,537.0 C118.0,538.7 121.2,541.5 122.2,542.4" stroke="#f7ddd2" stroke-width="1.5"/><path d="M115.3,539.0 L117.0,552.8" stroke="#f7ddd2" stroke-width="1.3"/><path d="M19.4,550.7 L16.7,552.1" stroke="#f7ddd2" stroke-width="1.0"/><path d="M19.4,550.7 L19.1,553.7" stroke="#f7ddd2" stroke-width="1.0"/><path d="M43.2,548.9 L42.1,551.7" stroke="#f7ddd2" stroke-width="1.0"/><path d="M43.2,548.9 L45.0,551.4" stroke="#f7ddd2" stroke-width="1.0"/><path d="M11.8,476.5 L8.9,475.7" stroke="#f7ddd2" stroke-width="1.0"/><path d="M11.8,476.5 L9.5,478.5" stroke="#f7ddd2" stroke-width="1.0"/><path d="M17.6,468.4 L17.0,465.4" stroke="#f7ddd2" stroke-width="1.0"/><path d="M17.6,468.4 L14.8,467.3" stroke="#f7ddd2" stroke-width="1.0"/><path d="M21.1,480.6 L18.3,481.6" stroke="#f7ddd2" stroke-width="1.0"/><path d="M21.1,480.6 L20.4,483.6" stroke="#f7ddd2" stroke-width="1.0"/><path d="M33.9,445.9 L34.6,442.9" stroke="#f7ddd2" stroke-width="1.0"/><path d="M33.9,445.9 L31.8,443.8" stroke="#f7ddd2" stroke-width="1.0"/><path d="M45.7,445.9 L48.1,444.1" stroke="#f7ddd2" stroke-width="1.0"/><path d="M45.7,445.9 L45.5,442.8" stroke="#f7ddd2" stroke-width="1.0"/><path d="M23.8,464.7 L22.2,462.2" stroke="#f7ddd2" stroke-width="1.0"/><path d="M23.8,464.7 L20.8,464.8" stroke="#f7ddd2" stroke-width="1.0"/><path d="M53.3,500.5 L54.7,503.2" stroke="#f7ddd2" stroke-width="1.0"/><path d="M53.3,500.5 L56.3,500.7" stroke="#f7ddd2" stroke-width="1.0"/><path d="M34.3,494.8 L31.7,493.3" stroke="#f7ddd2" stroke-width="1.0"/><path d="M34.3,494.8 L31.7,496.3" stroke="#f7ddd2" stroke-width="1.0"/><path d="M38.5,485.6 L37.0,483.0" stroke="#f7ddd2" stroke-width="1.0"/><path d="M38.5,485.6 L35.5,485.5" stroke="#f7ddd2" stroke-width="1.0"/><path d="M9.1,497.7 L7.7,495.0" stroke="#f7ddd2" stroke-width="1.0"/><path d="M9.1,497.7 L6.1,497.4" stroke="#f7ddd2" stroke-width="1.0"/><path d="M8.3,507.7 L5.3,507.0" stroke="#f7ddd2" stroke-width="1.0"/><path d="M8.3,507.7 L6.2,509.8" stroke="#f7ddd2" stroke-width="1.0"/><path d="M17.4,513.7 L14.4,513.8" stroke="#f7ddd2" stroke-width="1.0"/><path d="M17.4,513.7 L15.9,516.4" stroke="#f7ddd2" stroke-width="1.0"/><path d="M50.3,524.6 L48.8,527.2" stroke="#f7ddd2" stroke-width="1.0"/><path d="M50.3,524.6 L51.8,527.2" stroke="#f7ddd2" stroke-width="1.0"/><path d="M51.5,514.7 L54.1,516.2" stroke="#f7ddd2" stroke-width="1.0"/><path d="M51.5,514.7 L54.1,513.2" stroke="#f7ddd2" stroke-width="1.0"/><path d="M12.6,520.9 L10.2,519.0" stroke="#f7ddd2" stroke-width="1.0"/><path d="M12.6,520.9 L9.7,521.9" stroke="#f7ddd2" stroke-width="1.0"/><path d="M14.3,530.0 L11.3,530.7" stroke="#f7ddd2" stroke-width="1.0"/><path d="M14.3,530.0 L13.3,532.8" stroke="#f7ddd2" stroke-width="1.0"/><path d="M9.8,542.0 L7.0,543.1" stroke="#f7ddd2" stroke-width="1.0"/><path d="M9.8,542.0 L9.2,545.0" stroke="#f7ddd2" stroke-width="1.0"/><path d="M18.6,546.5 L15.6,547.0" stroke="#f7ddd2" stroke-width="1.0"/><path d="M18.6,546.5 L17.5,549.3" stroke="#f7ddd2" stroke-width="1.0"/><path d="M51.0,541.9 L50.2,544.8" stroke="#f7ddd2" stroke-width="1.0"/><path d="M51.0,541.9 L53.0,544.2" stroke="#f7ddd2" stroke-width="1.0"/><path d="M44.9,549.7 L44.1,552.6" stroke="#f7ddd2" stroke-width="1.0"/><path d="M44.9,549.7 L46.9,551.9" stroke="#f7ddd2" stroke-width="1.0"/><path d="M31.1,554.1 L30.0,556.9" stroke="#f7ddd2" stroke-width="1.0"/><path d="M31.1,554.1 L33.0,556.5" stroke="#f7ddd2" stroke-width="1.0"/><path d="M99.8,547.1 L97.8,549.4" stroke="#f7ddd2" stroke-width="1.0"/><path d="M99.8,547.1 L100.7,550.0" stroke="#f7ddd2" stroke-width="1.0"/><path d="M116.8,547.1 L116.5,550.2" stroke="#f7ddd2" stroke-width="1.0"/><path d="M116.8,547.1 L119.2,549.0" stroke="#f7ddd2" stroke-width="1.0"/><path d="M91.1,445.9 L91.8,442.9" stroke="#f7ddd2" stroke-width="1.0"/><path d="M91.1,445.9 L89.0,443.7" stroke="#f7ddd2" stroke-width="1.0"/><path d="M105.1,445.9 L105.6,442.9" stroke="#f7ddd2" stroke-width="1.0"/><path d="M105.1,445.9 L102.8,443.8" stroke="#f7ddd2" stroke-width="1.0"/><path d="M111.0,456.3 L112.0,453.4" stroke="#f7ddd2" stroke-width="1.0"/><path d="M111.0,456.3 L109.1,453.9" stroke="#f7ddd2" stroke-width="1.0"/><path d="M123.5,471.8 L126.5,470.9" stroke="#f7ddd2" stroke-width="1.0"/><path d="M123.5,471.8 L124.4,468.8" stroke="#f7ddd2" stroke-width="1.0"/><path d="M125.1,479.8 L127.2,482.0" stroke="#f7ddd2" stroke-width="1.0"/><path d="M125.1,479.8 L128.1,479.3" stroke="#f7ddd2" stroke-width="1.0"/><path d="M126.0,495.5 L128.2,497.6" stroke="#f7ddd2" stroke-width="1.0"/><path d="M126.0,495.5 L128.9,494.7" stroke="#f7ddd2" stroke-width="1.0"/><path d="M110.3,507.4 L107.6,508.8" stroke="#f7ddd2" stroke-width="1.0"/><path d="M110.3,507.4 L110.0,510.4" stroke="#f7ddd2" stroke-width="1.0"/><path d="M121.9,503.9 L122.1,506.9" stroke="#f7ddd2" stroke-width="1.0"/><path d="M121.9,503.9 L124.6,505.3" stroke="#f7ddd2" stroke-width="1.0"/><path d="M84.4,499.8 L81.4,499.6" stroke="#f7ddd2" stroke-width="1.0"/><path d="M84.4,499.8 L82.7,502.3" stroke="#f7ddd2" stroke-width="1.0"/><path d="M116.6,519.7 L117.9,522.4" stroke="#f7ddd2" stroke-width="1.0"/><path d="M116.6,519.7 L119.6,520.1" stroke="#f7ddd2" stroke-width="1.0"/><path d="M118.2,516.3 L120.6,518.2" stroke="#f7ddd2" stroke-width="1.0"/><path d="M118.2,516.3 L121.1,515.3" stroke="#f7ddd2" stroke-width="1.0"/><path d="M91.2,542.0 L88.7,543.6" stroke="#f7ddd2" stroke-width="1.0"/><path d="M91.2,542.0 L91.3,545.0" stroke="#f7ddd2" stroke-width="1.0"/><path d="M99.6,547.1 L98.7,550.0" stroke="#f7ddd2" stroke-width="1.0"/><path d="M99.6,547.1 L101.6,549.4" stroke="#f7ddd2" stroke-width="1.0"/><path d="M121.8,542.1 L122.9,544.9" stroke="#f7ddd2" stroke-width="1.0"/><path d="M121.8,542.1 L124.8,542.7" stroke="#f7ddd2" stroke-width="1.0"/><path d="M116.9,552.3 L115.8,555.1" stroke="#f7ddd2" stroke-width="1.0"/><path d="M116.9,552.3 L118.7,554.8" stroke="#f7ddd2" stroke-width="1.0"/></g>
<rect x="60.5" y="413" width="10.5" height="4" fill="#f4dcd0"/>
<rect x="59.8" y="415.5" width="11.8" height="4.5" rx="2.2" fill="#b2d1e8" stroke="#7f98ac" stroke-width="0.6"/>
<path d="M62,417.1 L69,417.1" stroke="#e2eef7" stroke-width="0.8"/>
<rect x="59.8" y="420.1" width="11.8" height="4.5" rx="2.2" fill="#b2d1e8" stroke="#7f98ac" stroke-width="0.6"/>
<path d="M62,421.7 L69,421.7" stroke="#e2eef7" stroke-width="0.8"/>
<rect x="59.8" y="424.7" width="11.8" height="4.5" rx="2.2" fill="#b2d1e8" stroke="#7f98ac" stroke-width="0.6"/>
<path d="M62,426.3 L69,426.3" stroke="#e2eef7" stroke-width="0.8"/>
<rect x="59.8" y="429.3" width="11.8" height="4.5" rx="2.2" fill="#b2d1e8" stroke="#7f98ac" stroke-width="0.6"/>
<path d="M62,430.9 L69,430.9" stroke="#e2eef7" stroke-width="0.8"/>
<rect x="59.8" y="433.9" width="11.8" height="4.5" rx="2.2" fill="#b2d1e8" stroke="#7f98ac" stroke-width="0.6"/>
<path d="M62,435.5 L69,435.5" stroke="#e2eef7" stroke-width="0.8"/>
<rect x="59.8" y="438.5" width="11.8" height="4.5" rx="2.2" fill="#b2d1e8" stroke="#7f98ac" stroke-width="0.6"/>
<path d="M62,440.1 L69,440.1" stroke="#e2eef7" stroke-width="0.8"/>
<rect x="59.8" y="443.1" width="11.8" height="4.5" rx="2.2" fill="#b2d1e8" stroke="#7f98ac" stroke-width="0.6"/>
<path d="M62,444.7 L69,444.7" stroke="#e2eef7" stroke-width="0.8"/>
<rect x="59.8" y="447.7" width="11.8" height="4.5" rx="2.2" fill="#b2d1e8" stroke="#7f98ac" stroke-width="0.6"/>
<path d="M62,449.3 L69,449.3" stroke="#e2eef7" stroke-width="0.8"/>
<rect x="59.8" y="452.3" width="11.8" height="4.5" rx="2.2" fill="#b2d1e8" stroke="#7f98ac" stroke-width="0.6"/>
<path d="M62,453.9 L69,453.9" stroke="#e2eef7" stroke-width="0.8"/>
<rect x="59.8" y="456.9" width="11.8" height="4.5" rx="2.2" fill="#b2d1e8" stroke="#7f98ac" stroke-width="0.6"/>
<path d="M62,458.5 L69,458.5" stroke="#e2eef7" stroke-width="0.8"/>
<path d="M61,461 L70.5,461 L72,464 L59.5,464 Z" fill="#f2dcd2"/>
<rect x="56.8" y="463" width="17.5" height="5" rx="2.5" fill="#b2d1e8" stroke="#7f98ac" stroke-width="0.6"/>
<path d="M59,465 L72,465" stroke="#e2eef7" stroke-width="0.8"/>
<g transform="rotate(-35 59 469)"><rect x="53.5" y="467.5" width="9.5" height="3.9" rx="1.9" fill="#b2d1e8" stroke="#7f98ac" stroke-width="0.6"/><rect x="53.5" y="471.6" width="9.5" height="3.9" rx="1.9" fill="#b2d1e8" stroke="#7f98ac" stroke-width="0.6"/></g>
<g transform="rotate(35 72 469)"><rect x="67.5" y="467.5" width="9.5" height="3.9" rx="1.9" fill="#b2d1e8" stroke="#7f98ac" stroke-width="0.6"/><rect x="67.5" y="471.6" width="9.5" height="3.9" rx="1.9" fill="#b2d1e8" stroke="#7f98ac" stroke-width="0.6"/></g>
</g>

<g fill="#1472c8" stroke="#0d62b0" stroke-width="0.4" stroke-linejoin="miter"><polygon points="307.4,180.0 318.1,213.0 312.1,213.0 307.4,288.0 302.7,213.0 296.7,213.0"/><polygon points="188.8,221.0 216.8,241.5 211.9,245.0 251.9,308.6 204.3,250.5 199.4,254.0"/><polygon points="418.1,215.2 407.5,248.2 402.6,244.7 355.3,302.2 395.0,239.2 390.1,235.7"/><polygon points="119.9,325.4 154.6,325.3 152.8,331.0 221.5,358.0 149.9,340.0 148.1,345.7"/><polygon points="495.2,325.1 467.1,345.5 465.3,339.8 393.9,358.0 462.4,330.8 460.5,325.1"/><polygon points="126.9,450.3 155.0,429.9 156.8,435.6 228.0,417.4 159.7,444.6 161.6,450.3"/><polygon points="488.0,450.3 453.3,450.3 455.2,444.6 386.9,417.4 458.1,435.6 459.9,429.9"/><polygon points="198.4,540.6 208.9,507.5 213.8,511.0 260.9,453.4 221.4,516.5 226.3,520.0"/><polygon points="307.3,575.9 296.6,542.9 302.6,542.9 307.3,467.2 312.0,542.9 318.0,542.9"/><polygon points="418.5,540.6 390.5,520.1 395.4,516.6 355.2,453.0 403.0,511.1 407.8,507.6"/></g>
<g font-family="Liberation Sans, sans-serif" font-size="16.9" fill="#0a0a0a"><text x="287.8" y="172.5">Bone</text><text x="126.5" y="214.0">Cartilage</text><text x="423.2" y="243.5">Adipose</text><text x="52.5" y="388.6">Skin</text><text x="559.8" y="392.5">Muscle</text><text x="226.5" y="407.0">Multiple differentiation</text><text x="241.8" y="426.0">potential of MSCs</text><text x="578.8" y="531.2">Nerve</text><text x="41.3" y="576.6">Trachea</text><text x="149.1" y="629.6">Cornea</text><text x="294.8" y="710.8">Liver</text><text x="432.8" y="665.7">Myocardium</text></g>
</svg>
</body></html>
